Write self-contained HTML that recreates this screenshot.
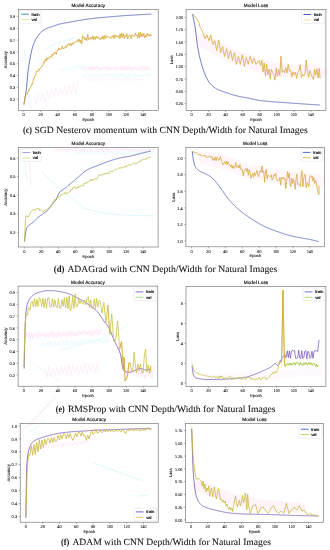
<!DOCTYPE html>
<html><head><meta charset="utf-8"><style>
html,body{margin:0;padding:0;background:#fff;width:330px;height:550px;overflow:hidden;}
svg{display:block;font-family:"Liberation Sans",sans-serif;filter:blur(0.3px);text-rendering:geometricPrecision;}
</style></head><body>
<svg width="330" height="550" viewBox="0 0 330 550"><g opacity="0.55">
<polyline points="81,67.03 82.3,69.33 83.6,66.61 84.9,70.39 86.2,66.67 87.5,70.03 88.8,67.28 90.1,70.03 91.4,65.89 92.7,70.58 94,66.21 95.3,69.46 96.6,65.96 97.9,70.59 99.2,67.05 100.5,70.25 101.8,67.27 103.1,69.48 104.4,66.83 105.7,69.54 107,66.16 108.3,70.53 109.6,66.78 110.9,69.78 112.2,67.13 113.5,69.43 114.8,66.23 116.1,70.2 117.4,67.22 118.7,70.02 120,66.7 121.3,70.57 122.6,66.22 123.9,70.2 125.2,66.47 126.5,70.72 127.8,65.82 129.1,69.81 130.4,66.94 131.7,70.49 133,67.2 134.3,69.85 135.6,67.19 136.9,69.78 138.2,67.19 139.5,69.74 140.8,66.11 142.1,70.66 143.4,66.11 144.7,70.14 146,66.38 147.3,69.84 148.6,67.05 149.9,69.95" fill="none" stroke="#ffc6ee" stroke-width="0.8" stroke-linejoin="round" stroke-linecap="round" opacity="1.0"/>
<polyline points="82,74.27 83.3,77.61 84.6,74.11 85.9,77.3 87.2,74.48 88.5,77.88 89.8,73.15 91.1,76.55 92.4,73.06 93.7,76.71 95,74.07 96.3,77.41 97.6,73.08 98.9,77.78 100.2,74.5 101.5,77.28 102.8,73.67 104.1,77.23 105.4,73.35 106.7,76.74 108,73.35 109.3,76.53 110.6,74.3 111.9,76.67 113.2,74.04 114.5,77.51 115.8,73.79 117.1,77.72 118.4,74.07 119.7,77.6 121,73.45 122.3,76.99 123.6,74 124.9,77.97 126.2,73.56 127.5,77.93 128.8,73.35 130.1,77.74 131.4,73.89 132.7,77.18 134,73.9 135.3,77.99 136.6,74.23 137.9,77.94 139.2,73.87 140.5,77.14 141.8,73.81 143.1,77.06 144.4,73.8 145.7,76.55 147,74.37 148.3,77.6 149.6,73.55 150.9,76.54" fill="none" stroke="#c2f3f8" stroke-width="1.0" stroke-linejoin="round" stroke-linecap="round" opacity="0.5"/>
<polyline points="86,78.2 87.3,80.31 88.6,78.16 89.9,80.97 91.2,78.02 92.5,80.51 93.8,78.35 95.1,80.8 96.4,78.32 97.7,80.75 99,78.87 100.3,80.37 101.6,78.85 102.9,80.87 104.2,78.56 105.5,80.71 106.8,78.67 108.1,80.41 109.4,78.89 110.7,80.42 112,78.05 113.3,80.3 114.6,78.61 115.9,80.93 117.2,78.87 118.5,80.16 119.8,78.33 121.1,80.89 122.4,78.89 123.7,80.77 125,78.17 126.3,80.17 127.6,78.31 128.9,80.56 130.2,78.47 131.5,80.96 132.8,78.9 134.1,80.32 135.4,78.26 136.7,80.39 138,78.65 139.3,80.73 140.6,78.07 141.9,80.32 143.2,78.49 144.5,80.33 145.8,78.56 147.1,80.64 148.4,78.2 149.7,80.16" fill="none" stroke="#ffc6ee" stroke-width="0.6" stroke-linejoin="round" stroke-linecap="round" opacity="0.6"/>
<polyline points="24,48 26,65 28,85 30.2,109" fill="none" stroke="#c2f3f8" stroke-width="0.8" stroke-linejoin="round" stroke-linecap="round" opacity="1.0"/>
<polyline points="45,49 55,44 65,40.5 75,38" fill="none" stroke="#c2f3f8" stroke-width="1.0" stroke-linejoin="round" stroke-linecap="round" opacity="1.0"/>
<polyline points="34,95.75 36.2,104.5 38.4,93.09 40.6,100.37 42.8,93.73 45,102.41 47.2,91.63 49.4,98.73 51.6,90.29 53.8,97.31 56,88.3 58.2,96.72 60.4,88.23 62.6,94.48 64.8,86.72 67,94.19 69.2,84.76 71.4,93.75 73.6,84.38 75.8,94.13 78,82.93" fill="none" stroke="#ffc6ee" stroke-width="0.7" stroke-linejoin="round" stroke-linecap="round" opacity="0.7"/>
<polyline points="60,67.73 61.6,71.04 63.2,68.46 64.8,70.86 66.4,67.67 68,70.65 69.6,67.17 71.2,69.86 72.8,67 74.4,69.32 76,65.34 77.6,68.88 79.2,65.18 80.8,69.33 82.4,64.59 84,67.89 85.6,65.09 87.2,67.18" fill="none" stroke="#c2f3f8" stroke-width="0.7" stroke-linejoin="round" stroke-linecap="round" opacity="0.8"/>
<polyline points="41.3,171.3 50,180 60,189 72,199 85,208.5 100,212.5 120,214.8 155,216" fill="none" stroke="#c2f3f8" stroke-width="1.0" stroke-linejoin="round" stroke-linecap="round" opacity="1.0"/>
<polyline points="24,150 25,165 27,180" fill="none" stroke="#c2f3f8" stroke-width="0.8" stroke-linejoin="round" stroke-linecap="round" opacity="1.0"/>
<polyline points="28,152 30,170 31,185" fill="none" stroke="#ffc6ee" stroke-width="0.7" stroke-linejoin="round" stroke-linecap="round" opacity="1.0"/>
<polyline points="55,148.83 56.3,151.57 57.6,148.39 58.9,150.94 60.2,148.64 61.5,151.17 62.8,148.21 64.1,151.1 65.4,149.03 66.7,152.12 68,148.38 69.3,150.98 70.6,148.17 71.9,151.09 73.2,148.79 74.5,151.27 75.8,148.2 77.1,151.49 78.4,148.84 79.7,151.47 81,148.96 82.3,152.09 83.6,148.37 84.9,151.5 86.2,148.7 87.5,150.94 88.8,148.13 90.1,151.6 91.4,148.11 92.7,151.92 94,149.02 95.3,151.75 96.6,149.05 97.9,151.78 99.2,148.53 100.5,151.5 101.8,148.25 103.1,151.79 104.4,148.77 105.7,150.9 107,148.1 108.3,151.96 109.6,148.94 110.9,151.64 112.2,148.67 113.5,151.19 114.8,148.86 116.1,151.24 117.4,147.83 118.7,151.16 120,148.65 121.3,150.9 122.6,148.31 123.9,151.18 125.2,148.14 126.5,151.65 127.8,148.57 129.1,151.82 130.4,147.84 131.7,151.95 133,148.55 134.3,152.14 135.6,149.06 136.9,151.85 138.2,148.23 139.5,151.58 140.8,148.37 142.1,151.83 143.4,148.22 144.7,151.93 146,148.97 147.3,151.14 148.6,148.17 149.9,151.4 151.2,148.67 152.5,151.08 153.8,148.99" fill="none" stroke="#ffc6ee" stroke-width="0.7" stroke-linejoin="round" stroke-linecap="round" opacity="0.9"/>
<polyline points="75,151.85 76.3,154.44 77.6,151.97 78.9,153.88 80.2,151.26 81.5,154.59 82.8,151.43 84.1,154.49 85.4,152.15 86.7,154.23 88,151.07 89.3,153.87 90.6,151.16 91.9,154.85 93.2,152.14 94.5,154.58 95.8,151.54 97.1,154.52 98.4,151.62 99.7,154.14 101,151.84 102.3,154.47 103.6,151.72 104.9,154.75 106.2,151.7 107.5,153.97 108.8,152.02 110.1,153.87 111.4,151.34 112.7,154.15 114,151.96 115.3,154.8 116.6,151.52 117.9,153.9 119.2,151.55 120.5,153.99 121.8,151.39 123.1,153.94 124.4,151.67 125.7,154.87 127,151.24 128.3,153.88 129.6,151.05 130.9,154.59 132.2,151.34 133.5,154.69 134.8,151.13 136.1,153.96 137.4,151.27 138.7,154.81 140,151.2 141.3,153.83 142.6,151.73 143.9,154.32 145.2,151.58 146.5,154.39 147.8,152.04 149.1,154.98 150.4,152.12 151.7,154.5 153,151.5 154.3,154.95" fill="none" stroke="#c2f3f8" stroke-width="0.8" stroke-linejoin="round" stroke-linecap="round" opacity="0.7"/>
<polyline points="24,333.23 25.3,338.4 26.6,332.62 27.9,337.58 29.2,332.55 30.5,338.65 31.8,332.81 33.1,339.01 34.4,333.53 35.7,336.87 37,332.61 38.3,338.46 39.6,332.26 40.9,336.59 42.2,333.44 43.5,337.04 44.8,332.1 46.1,338.09 47.4,333 48.7,337.53 50,331.81 51.3,336.76 52.6,331.49 53.9,337.6 55.2,332.61 56.5,337.75 57.8,331.89 59.1,337.02 60.4,332.31 61.7,337.19 63,331.95 64.3,335.98 65.6,331.86 66.9,336.97 68.2,331.2 69.5,335.5 70.8,330.73 72.1,336.31 73.4,330.98 74.7,336.04 76,331.94 77.3,336.16 78.6,330.71 79.9,334.74 81.2,331.68 82.5,335.02 83.8,329.48 85.1,334.78 86.4,331.22 87.7,334.21 89,330.59 90.3,335.74 91.6,330.72 92.9,335.87 94.2,328.97 95.5,333.8 96.8,329.27 98.1,335.09 99.4,329.7 100.7,334.08 102,329.25" fill="none" stroke="#ffc6ee" stroke-width="0.8" stroke-linejoin="round" stroke-linecap="round" opacity="0.9"/>
<polyline points="40,343.62 41.3,347.48 42.6,343.17 43.9,346.17 45.2,342.83 46.5,345.89 47.8,342.03 49.1,347 50.4,341.29 51.7,346.51 53,342.48 54.3,346.17 55.6,341.7 56.9,345.41 58.2,342.3 59.5,345.71 60.8,342.04 62.1,345.58 63.4,341.43 64.7,345.67 66,341.27 67.3,345.95 68.6,340.36 69.9,345.16 71.2,340.46 72.5,345.04 73.8,340.9 75.1,345.04 76.4,340.68 77.7,344.78 79,340.9 80.3,344.56 81.6,339.83 82.9,344.13 84.2,340.02 85.5,343.26 86.8,339.48 88.1,342.86 89.4,338.79 90.7,343.86 92,340.01 93.3,342.53 94.6,339.88 95.9,344 97.2,338.64 98.5,342.34 99.8,338.87 101.1,343.39 102.4,338.53 103.7,343.4 105,338.91 106.3,342.75 107.6,337.31 108.9,342.96" fill="none" stroke="#c2f3f8" stroke-width="0.8" stroke-linejoin="round" stroke-linecap="round" opacity="0.6"/>
<polyline points="60,350 80,345 100,339 115,332 128,325" fill="none" stroke="#c2f3f8" stroke-width="0.9" stroke-linejoin="round" stroke-linecap="round" opacity="0.8"/>
<polyline points="28,360 45,372 60,381" fill="none" stroke="#c2f3f8" stroke-width="0.8" stroke-linejoin="round" stroke-linecap="round" opacity="0.8"/>
<polyline points="45,367.48 47,377.49 49,366.1 51,376.9 53,368.89 55,376.16 57,367.36 59,375.25 61,366.07 63,373.79 65,367.17 67,375.39 69,365.04 71,375.57 73,364.77 75,372.35 77,366.85 79,374.63 81,366.12 83,372.55 85,363.6 87,374.76 89,364.38 91,371.7 93,363.34 95,372.54 97,363.55 99,373.49" fill="none" stroke="#ffc6ee" stroke-width="0.7" stroke-linejoin="round" stroke-linecap="round" opacity="0.7"/>
<polyline points="125,369 126.8,376.01 128.6,366.17 130.4,374.89 132.2,368.34 134,375.01 135.8,367.93 137.6,377.59 139.4,367.91 141.2,377.25 143,368.91 144.8,378.44 146.6,368.64 148.4,375.55 150.2,367.12 152,378.43 153.8,366.01" fill="none" stroke="#ffc6ee" stroke-width="0.9" stroke-linejoin="round" stroke-linecap="round" opacity="0.8"/>
<polyline points="94,463.2 110,469 125,474.5 142.2,480.8" fill="none" stroke="#c2f3f8" stroke-width="1.1" stroke-linejoin="round" stroke-linecap="round" opacity="1.0"/>
<polyline points="138,496 146.6,495.5" fill="none" stroke="#c2f3f8" stroke-width="1.0" stroke-linejoin="round" stroke-linecap="round" opacity="1.0"/>
<polyline points="32,446.69 33.3,449.59 34.6,446.1 35.9,449.89 37.2,446.21 38.5,448.84 39.8,445.79 41.1,449.1 42.4,445.59 43.7,449.01 45,445.64 46.3,448.36 47.6,444.17 48.9,448.37 50.2,444.83 51.5,446.99 52.8,443.69 54.1,448.15 55.4,443.53 56.7,446.89 58,443.16 59.3,447.21 60.6,443.46 61.9,446.83 63.2,443.13 64.5,446.51 65.8,442.45 67.1,445.54 68.4,441.85 69.7,446.58 71,441.95 72.3,446.02 73.6,442.65 74.9,444.83 76.2,441.12 77.5,445.41 78.8,441.4 80.1,444.22 81.4,441.16 82.7,444.53 84,441.15 85.3,443.55 86.6,440.7 87.9,443.36 89.2,441.01" fill="none" stroke="#ffc6ee" stroke-width="0.7" stroke-linejoin="round" stroke-linecap="round" opacity="0.6"/>
<polyline points="30,432 38,426 46,421" fill="none" stroke="#c2f3f8" stroke-width="1.0" stroke-linejoin="round" stroke-linecap="round" opacity="0.8"/>
<polyline points="24,428 34,423 45,418" fill="none" stroke="#ffc6ee" stroke-width="0.8" stroke-linejoin="round" stroke-linecap="round" opacity="0.7"/>
<polyline points="30,424 40,414 48,405 55,398" fill="none" stroke="#ffc6ee" stroke-width="1.2" stroke-linejoin="round" stroke-linecap="round" opacity="0.6"/>
<polyline points="26,426 36,416 44,408 50,402" fill="none" stroke="#c2f3f8" stroke-width="1.0" stroke-linejoin="round" stroke-linecap="round" opacity="0.6"/>
<polyline points="203,40 215,47 230,55 250,62 270,69 290,71 320,72" fill="none" stroke="#fde4f2" stroke-width="14" stroke-linejoin="round" stroke-linecap="round" opacity="0.7"/>
<polyline points="205,158 220,161 250,172 280,177 318,181" fill="none" stroke="#fde4f2" stroke-width="14" stroke-linejoin="round" stroke-linecap="round" opacity="0.7"/>
<polyline points="205,378 240,377 270,376 300,372 320,372" fill="none" stroke="#fdeaf5" stroke-width="8" stroke-linejoin="round" stroke-linecap="round" opacity="0.5"/>
<polyline points="198,486 215,492 235,500 260,505 300,508" fill="none" stroke="#fde6f3" stroke-width="11" stroke-linejoin="round" stroke-linecap="round" opacity="0.9"/>
</g>
<rect x="18.4" y="9.3" width="139.8" height="101" fill="none" stroke="#666" stroke-width="0.6"/>
<text x="88.3" y="7" font-family="Liberation Sans" font-size="4.7" text-anchor="middle" font-weight="normal" fill="#111" stroke="#111" stroke-width="0.17" letter-spacing="0.05">Model Accuracy</text>
<line x1="23.6" y1="110.3" x2="23.6" y2="111.9" stroke="#666" stroke-width="0.5"/>
<text x="23.6" y="116" font-family="Liberation Sans" font-size="3.95" text-anchor="middle" font-weight="normal" fill="#111" stroke="#111" stroke-width="0.08">0</text>
<line x1="40.68" y1="110.3" x2="40.68" y2="111.9" stroke="#666" stroke-width="0.5"/>
<text x="40.68" y="116" font-family="Liberation Sans" font-size="3.95" text-anchor="middle" font-weight="normal" fill="#111" stroke="#111" stroke-width="0.08">20</text>
<line x1="57.76" y1="110.3" x2="57.76" y2="111.9" stroke="#666" stroke-width="0.5"/>
<text x="57.76" y="116" font-family="Liberation Sans" font-size="3.95" text-anchor="middle" font-weight="normal" fill="#111" stroke="#111" stroke-width="0.08">40</text>
<line x1="74.84" y1="110.3" x2="74.84" y2="111.9" stroke="#666" stroke-width="0.5"/>
<text x="74.84" y="116" font-family="Liberation Sans" font-size="3.95" text-anchor="middle" font-weight="normal" fill="#111" stroke="#111" stroke-width="0.08">60</text>
<line x1="91.92" y1="110.3" x2="91.92" y2="111.9" stroke="#666" stroke-width="0.5"/>
<text x="91.92" y="116" font-family="Liberation Sans" font-size="3.95" text-anchor="middle" font-weight="normal" fill="#111" stroke="#111" stroke-width="0.08">80</text>
<line x1="109" y1="110.3" x2="109" y2="111.9" stroke="#666" stroke-width="0.5"/>
<text x="109" y="116" font-family="Liberation Sans" font-size="3.95" text-anchor="middle" font-weight="normal" fill="#111" stroke="#111" stroke-width="0.08" textLength="5.9" lengthAdjust="spacingAndGlyphs">100</text>
<line x1="126.08" y1="110.3" x2="126.08" y2="111.9" stroke="#666" stroke-width="0.5"/>
<text x="126.08" y="116" font-family="Liberation Sans" font-size="3.95" text-anchor="middle" font-weight="normal" fill="#111" stroke="#111" stroke-width="0.08" textLength="5.9" lengthAdjust="spacingAndGlyphs">120</text>
<line x1="143.16" y1="110.3" x2="143.16" y2="111.9" stroke="#666" stroke-width="0.5"/>
<text x="143.16" y="116" font-family="Liberation Sans" font-size="3.95" text-anchor="middle" font-weight="normal" fill="#111" stroke="#111" stroke-width="0.08" textLength="5.9" lengthAdjust="spacingAndGlyphs">140</text>
<text x="88.3" y="120.9" font-family="Liberation Sans" font-size="4.1" text-anchor="middle" font-weight="normal" fill="#111" stroke="#111" stroke-width="0.1">Epoch</text>
<line x1="16.8" y1="99.1" x2="18.4" y2="99.1" stroke="#666" stroke-width="0.5"/>
<text x="15.3" y="100.8" font-family="Liberation Sans" font-size="3.95" text-anchor="end" font-weight="normal" fill="#111" stroke="#111" stroke-width="0.08">0.2</text>
<line x1="16.8" y1="87.31" x2="18.4" y2="87.31" stroke="#666" stroke-width="0.5"/>
<text x="15.3" y="89.01" font-family="Liberation Sans" font-size="3.95" text-anchor="end" font-weight="normal" fill="#111" stroke="#111" stroke-width="0.08">0.3</text>
<line x1="16.8" y1="75.53" x2="18.4" y2="75.53" stroke="#666" stroke-width="0.5"/>
<text x="15.3" y="77.23" font-family="Liberation Sans" font-size="3.95" text-anchor="end" font-weight="normal" fill="#111" stroke="#111" stroke-width="0.08">0.4</text>
<line x1="16.8" y1="63.74" x2="18.4" y2="63.74" stroke="#666" stroke-width="0.5"/>
<text x="15.3" y="65.44" font-family="Liberation Sans" font-size="3.95" text-anchor="end" font-weight="normal" fill="#111" stroke="#111" stroke-width="0.08">0.5</text>
<line x1="16.8" y1="51.96" x2="18.4" y2="51.96" stroke="#666" stroke-width="0.5"/>
<text x="15.3" y="53.66" font-family="Liberation Sans" font-size="3.95" text-anchor="end" font-weight="normal" fill="#111" stroke="#111" stroke-width="0.08">0.6</text>
<line x1="16.8" y1="40.17" x2="18.4" y2="40.17" stroke="#666" stroke-width="0.5"/>
<text x="15.3" y="41.87" font-family="Liberation Sans" font-size="3.95" text-anchor="end" font-weight="normal" fill="#111" stroke="#111" stroke-width="0.08">0.7</text>
<line x1="16.8" y1="28.39" x2="18.4" y2="28.39" stroke="#666" stroke-width="0.5"/>
<text x="15.3" y="30.09" font-family="Liberation Sans" font-size="3.95" text-anchor="end" font-weight="normal" fill="#111" stroke="#111" stroke-width="0.08">0.8</text>
<line x1="16.8" y1="16.6" x2="18.4" y2="16.6" stroke="#666" stroke-width="0.5"/>
<text x="15.3" y="18.3" font-family="Liberation Sans" font-size="3.95" text-anchor="end" font-weight="normal" fill="#111" stroke="#111" stroke-width="0.08">0.9</text>
<text x="7.2" y="59.8" font-family="Liberation Sans" font-size="4.2" text-anchor="middle" font-weight="normal" fill="#111" stroke="#111" stroke-width="0.1" transform="rotate(-90 7.2 59.8)">Accuracy</text>
<rect x="19.3" y="10.3" width="21.5" height="12.8" rx="0.8" fill="#fff" fill-opacity="0.8" stroke="#d4d4d4" stroke-width="0.4"/>
<line x1="21.1" y1="14.2" x2="28.8" y2="14.2" stroke="#2a86c0" stroke-width="0.9"/>
<line x1="21.1" y1="19.6" x2="28.8" y2="19.6" stroke="#e6dc98" stroke-width="0.9"/>
<text x="31.5" y="15.75" font-family="Liberation Sans" font-size="4.2" text-anchor="start" font-weight="normal" fill="#000" stroke="#000" stroke-width="0.15">train</text>
<text x="31.5" y="21.15" font-family="Liberation Sans" font-size="4.2" text-anchor="start" font-weight="normal" fill="#000" stroke="#000" stroke-width="0.15">val</text>
<polyline points="24,103.6 24.5,101.18 25,98.27 25.5,94.95 26,91.31 26.5,87.37 27,82.38 27.5,76.79 28,71.67 28.5,67.83 29,64.62 29.5,61.75 30,59 30.5,56.25 31,53.62 31.5,51.24 32,49.24 32.5,47.45 33,45.81 33.5,44.32 34,42.98 34.5,41.8 35,40.74 35.5,39.75 36,38.84 36.5,38 37,37.21 37.5,36.47 38,35.77 38.5,35.1 39,34.46 39.5,33.84 40,33.25 40.5,32.71 41,32.2 41.5,31.75 42,31.34 42.5,30.96 43,30.6 43.5,30.26 44,29.93 44.5,29.63 45,29.34 45.5,29.06 46,28.8 46.5,28.56 47,28.33 47.5,28.12 48,27.92 48.5,27.73 49,27.56 49.5,27.4 50,27.24 50.5,27.09 51,26.94 51.5,26.79 52,26.63 52.5,26.47 53,26.3 53.5,26.12 54,25.93 54.5,25.74 55,25.55 55.5,25.36 56,25.18 56.5,24.99 57,24.81 57.5,24.64 58,24.48 58.5,24.33 59,24.2 59.5,24.08 60,23.95 60.5,23.84 61,23.72 61.5,23.61 62,23.51 62.5,23.4 63,23.3 63.5,23.2 64,23.11 64.5,23.01 65,22.92 65.5,22.83 66,22.74 66.5,22.66 67,22.57 67.5,22.49 68,22.4 68.5,22.32 69,22.24 69.5,22.15 70,22.07 70.5,21.99 71,21.91 71.5,21.83 72,21.74 72.5,21.66 73,21.57 73.5,21.49 74,21.4 74.5,21.31 75,21.22 75.5,21.13 76,21.04 76.5,20.95 77,20.86 77.5,20.77 78,20.68 78.5,20.59 79,20.5 79.5,20.41 80,20.32 80.5,20.23 81,20.14 81.5,20.06 82,19.97 82.5,19.89 83,19.8 83.5,19.72 84,19.64 84.5,19.56 85,19.48 85.5,19.41 86,19.33 86.5,19.26 87,19.19 87.5,19.13 88,19.06 88.5,19 89,18.93 89.5,18.87 90,18.81 90.5,18.75 91,18.69 91.5,18.63 92,18.57 92.5,18.51 93,18.45 93.5,18.4 94,18.34 94.5,18.29 95,18.23 95.5,18.18 96,18.12 96.5,18.07 97,18.02 97.5,17.97 98,17.91 98.5,17.86 99,17.81 99.5,17.76 100,17.71 100.5,17.67 101,17.62 101.5,17.57 102,17.52 102.5,17.47 103,17.43 103.5,17.38 104,17.33 104.5,17.29 105,17.24 105.5,17.2 106,17.15 106.5,17.11 107,17.06 107.5,17.02 108,16.97 108.5,16.93 109,16.89 109.5,16.84 110,16.8 110.5,16.76 111,16.71 111.5,16.67 112,16.63 112.5,16.59 113,16.55 113.5,16.5 114,16.46 114.5,16.42 115,16.38 115.5,16.34 116,16.3 116.5,16.26 117,16.22 117.5,16.18 118,16.15 118.5,16.11 119,16.07 119.5,16.03 120,15.99 120.5,15.96 121,15.92 121.5,15.88 122,15.85 122.5,15.81 123,15.77 123.5,15.74 124,15.7 124.5,15.67 125,15.63 125.5,15.6 126,15.57 126.5,15.53 127,15.5 127.5,15.46 128,15.43 128.5,15.4 129,15.36 129.5,15.33 130,15.3 130.5,15.27 131,15.24 131.5,15.2 132,15.17 132.5,15.14 133,15.11 133.5,15.08 134,15.05 134.5,15.02 135,14.99 135.5,14.96 136,14.93 136.5,14.9 137,14.87 137.5,14.84 138,14.81 138.5,14.78 139,14.75 139.5,14.72 140,14.69 140.5,14.66 141,14.63 141.5,14.61 142,14.58 142.5,14.55 143,14.52 143.5,14.5 144,14.47 144.5,14.44 145,14.42 145.5,14.39 146,14.36 146.5,14.34 147,14.31 147.5,14.29 148,14.26 148.5,14.24 149,14.21 149.5,14.19 150,14.17 150.5,14.14 151,14.12 151.4,14.1" fill="none" stroke="#4a58b4" stroke-width="0.8" stroke-linejoin="round" opacity="1.0"/>
<polyline points="24,105.44 24.85,97.57 25.7,95.55 26.55,93.44 27.4,94.08 28.25,90.53 29.1,90.82 29.95,87.82 30.8,87.25 31.65,84.06 32.5,84.43 33.35,78.57 34.2,78.92 35.05,75.17 35.9,74.76 36.75,71.02 37.6,71.9 38.45,69.26 39.3,70.42 40.15,68.07 41,67.73 41.85,66.01 42.7,66.01 43.55,62.06 44.4,62.89 45.25,58.99 46.1,61.16 46.95,57.58 47.8,59.52 48.65,57.64 49.5,57.93 50.35,56.11 51.2,57.47 52.05,54.19 52.9,55.65 53.75,52.92 54.6,53.65 55.45,52.08 56.3,54.5 57.15,50.3 58,50.55 58.85,47.88 59.7,49.81 60.55,48.86 61.4,49.11 62.25,46.08 63.1,48.91 63.95,47.72 64.8,48.31 65.65,45.78 66.5,47.64 67.35,44.34 68.2,45.26 69.05,43.57 69.9,45.73 70.75,43.23 71.6,45.74 72.45,42.76 73.3,44.42 74.15,42.19 75,42.42 75.85,41.56 76.7,42.49 77.55,39.53 78.4,41.78 79.25,39.13 80.1,42.63 80.95,39.95 81.8,43.83 82.65,35.8 83.5,38.22 84.35,36.93 85.2,40.05 86.05,37.8 86.9,40.78 87.75,34.1 88.6,39.58 89.45,38.12 90.3,39.47 91.15,37.09 92,39.2 92.85,35.92 93.7,39.61 94.55,36.6 95.4,39.44 96.25,36.1 97.1,38.39 97.95,36.72 98.8,38.89 99.65,38.04 100.5,40.08 101.35,36.82 102.2,39 103.05,35.63 103.9,39.59 104.75,35.4 105.6,38.44 106.45,35.7 107.3,37.3 108.15,36.53 109,37.68 109.85,37.4 110.7,38.94 111.55,36.47 112.4,37.57 113.25,35.07 114.1,38.71 114.95,34.8 115.8,37.37 116.65,35.32 117.5,36.75 118.35,35.97 119.2,38.57 120.05,33.62 120.9,38.13 121.75,33.33 122.6,37.33 123.45,33.59 124.3,38.97 125.15,35.32 126,37.04 126.85,33.65 127.7,38.99 128.55,36.68 129.4,34.7 130.25,35.6 131.1,38.75 131.95,34.77 132.8,36.15 133.65,35.97 134.5,36.58 135.35,32.98 136.2,35.98 137.05,34.67 137.9,38.25 138.75,32.63 139.6,37.76 140.45,32.04 141.3,36.96 142.15,33.59 143,36.55 143.85,33.37 144.7,37.79 145.55,35.04 146.4,37.24 147.25,33.24 148.1,35.88 148.95,34.34 149.8,36.46 150.65,34.17 151.4,35.95" fill="none" stroke="#d6a42c" stroke-width="0.75" stroke-linejoin="round" opacity="1.0"/>
<rect x="186.1" y="9.3" width="139.8" height="101.1" fill="none" stroke="#666" stroke-width="0.6"/>
<text x="256" y="7" font-family="Liberation Sans" font-size="4.7" text-anchor="middle" font-weight="normal" fill="#111" stroke="#111" stroke-width="0.17" letter-spacing="0.05">Model Loss</text>
<line x1="191.5" y1="110.4" x2="191.5" y2="112" stroke="#666" stroke-width="0.5"/>
<text x="191.5" y="116.1" font-family="Liberation Sans" font-size="3.95" text-anchor="middle" font-weight="normal" fill="#111" stroke="#111" stroke-width="0.08">0</text>
<line x1="208.56" y1="110.4" x2="208.56" y2="112" stroke="#666" stroke-width="0.5"/>
<text x="208.56" y="116.1" font-family="Liberation Sans" font-size="3.95" text-anchor="middle" font-weight="normal" fill="#111" stroke="#111" stroke-width="0.08">20</text>
<line x1="225.62" y1="110.4" x2="225.62" y2="112" stroke="#666" stroke-width="0.5"/>
<text x="225.62" y="116.1" font-family="Liberation Sans" font-size="3.95" text-anchor="middle" font-weight="normal" fill="#111" stroke="#111" stroke-width="0.08">40</text>
<line x1="242.68" y1="110.4" x2="242.68" y2="112" stroke="#666" stroke-width="0.5"/>
<text x="242.68" y="116.1" font-family="Liberation Sans" font-size="3.95" text-anchor="middle" font-weight="normal" fill="#111" stroke="#111" stroke-width="0.08">60</text>
<line x1="259.74" y1="110.4" x2="259.74" y2="112" stroke="#666" stroke-width="0.5"/>
<text x="259.74" y="116.1" font-family="Liberation Sans" font-size="3.95" text-anchor="middle" font-weight="normal" fill="#111" stroke="#111" stroke-width="0.08">80</text>
<line x1="276.8" y1="110.4" x2="276.8" y2="112" stroke="#666" stroke-width="0.5"/>
<text x="276.8" y="116.1" font-family="Liberation Sans" font-size="3.95" text-anchor="middle" font-weight="normal" fill="#111" stroke="#111" stroke-width="0.08" textLength="5.9" lengthAdjust="spacingAndGlyphs">100</text>
<line x1="293.86" y1="110.4" x2="293.86" y2="112" stroke="#666" stroke-width="0.5"/>
<text x="293.86" y="116.1" font-family="Liberation Sans" font-size="3.95" text-anchor="middle" font-weight="normal" fill="#111" stroke="#111" stroke-width="0.08" textLength="5.9" lengthAdjust="spacingAndGlyphs">120</text>
<line x1="310.92" y1="110.4" x2="310.92" y2="112" stroke="#666" stroke-width="0.5"/>
<text x="310.92" y="116.1" font-family="Liberation Sans" font-size="3.95" text-anchor="middle" font-weight="normal" fill="#111" stroke="#111" stroke-width="0.08" textLength="5.9" lengthAdjust="spacingAndGlyphs">140</text>
<text x="256" y="121" font-family="Liberation Sans" font-size="4.1" text-anchor="middle" font-weight="normal" fill="#111" stroke="#111" stroke-width="0.1">Epoch</text>
<line x1="184.5" y1="103.6" x2="186.1" y2="103.6" stroke="#666" stroke-width="0.5"/>
<text x="183" y="105.3" font-family="Liberation Sans" font-size="3.95" text-anchor="end" font-weight="normal" fill="#111" stroke="#111" stroke-width="0.08" textLength="7.3" lengthAdjust="spacingAndGlyphs">0.25</text>
<line x1="184.5" y1="91.27" x2="186.1" y2="91.27" stroke="#666" stroke-width="0.5"/>
<text x="183" y="92.97" font-family="Liberation Sans" font-size="3.95" text-anchor="end" font-weight="normal" fill="#111" stroke="#111" stroke-width="0.08" textLength="7.3" lengthAdjust="spacingAndGlyphs">0.50</text>
<line x1="184.5" y1="78.94" x2="186.1" y2="78.94" stroke="#666" stroke-width="0.5"/>
<text x="183" y="80.64" font-family="Liberation Sans" font-size="3.95" text-anchor="end" font-weight="normal" fill="#111" stroke="#111" stroke-width="0.08" textLength="7.3" lengthAdjust="spacingAndGlyphs">0.75</text>
<line x1="184.5" y1="66.61" x2="186.1" y2="66.61" stroke="#666" stroke-width="0.5"/>
<text x="183" y="68.31" font-family="Liberation Sans" font-size="3.95" text-anchor="end" font-weight="normal" fill="#111" stroke="#111" stroke-width="0.08" textLength="7.3" lengthAdjust="spacingAndGlyphs">1.00</text>
<line x1="184.5" y1="54.29" x2="186.1" y2="54.29" stroke="#666" stroke-width="0.5"/>
<text x="183" y="55.99" font-family="Liberation Sans" font-size="3.95" text-anchor="end" font-weight="normal" fill="#111" stroke="#111" stroke-width="0.08" textLength="7.3" lengthAdjust="spacingAndGlyphs">1.25</text>
<line x1="184.5" y1="41.96" x2="186.1" y2="41.96" stroke="#666" stroke-width="0.5"/>
<text x="183" y="43.66" font-family="Liberation Sans" font-size="3.95" text-anchor="end" font-weight="normal" fill="#111" stroke="#111" stroke-width="0.08" textLength="7.3" lengthAdjust="spacingAndGlyphs">1.50</text>
<line x1="184.5" y1="29.63" x2="186.1" y2="29.63" stroke="#666" stroke-width="0.5"/>
<text x="183" y="31.33" font-family="Liberation Sans" font-size="3.95" text-anchor="end" font-weight="normal" fill="#111" stroke="#111" stroke-width="0.08" textLength="7.3" lengthAdjust="spacingAndGlyphs">1.75</text>
<line x1="184.5" y1="17.3" x2="186.1" y2="17.3" stroke="#666" stroke-width="0.5"/>
<text x="183" y="19" font-family="Liberation Sans" font-size="3.95" text-anchor="end" font-weight="normal" fill="#111" stroke="#111" stroke-width="0.08" textLength="7.3" lengthAdjust="spacingAndGlyphs">2.00</text>
<text x="172.9" y="59.85" font-family="Liberation Sans" font-size="4.2" text-anchor="middle" font-weight="normal" fill="#111" stroke="#111" stroke-width="0.1" transform="rotate(-90 172.9 59.85)">Loss</text>
<rect x="301.6" y="10.6" width="22.6" height="12.8" rx="0.8" fill="#fff" fill-opacity="0.8" stroke="#d4d4d4" stroke-width="0.4"/>
<line x1="303.4" y1="14.5" x2="311.1" y2="14.5" stroke="#3848a8" stroke-width="0.9"/>
<line x1="303.4" y1="19.9" x2="311.1" y2="19.9" stroke="#e6dc98" stroke-width="0.9"/>
<text x="313.8" y="16.05" font-family="Liberation Sans" font-size="4.2" text-anchor="start" font-weight="normal" fill="#000" stroke="#000" stroke-width="0.15">train</text>
<text x="313.8" y="21.45" font-family="Liberation Sans" font-size="4.2" text-anchor="start" font-weight="normal" fill="#000" stroke="#000" stroke-width="0.15">val</text>
<polyline points="192.3,14.1 192.8,15.73 193.3,17.72 193.8,20.02 194.3,22.58 194.8,25.36 195.3,28.32 195.8,32.05 196.3,36.4 196.8,40.81 197.3,44.71 197.8,47.75 198.3,50.48 198.8,53 199.3,55.33 199.8,57.5 200.3,59.52 200.8,61.43 201.3,63.25 201.8,64.99 202.3,66.67 202.8,68.27 203.3,69.79 203.8,71.23 204.3,72.59 204.8,73.87 205.3,75.05 205.8,76.16 206.3,77.22 206.8,78.24 207.3,79.21 207.8,80.13 208.3,80.99 208.8,81.79 209.3,82.52 209.8,83.16 210.3,83.74 210.8,84.29 211.3,84.81 211.8,85.3 212.3,85.77 212.8,86.22 213.3,86.64 213.8,87.04 214.3,87.42 214.8,87.78 215.3,88.11 215.8,88.43 216.3,88.72 216.8,89 217.3,89.26 217.8,89.51 218.3,89.74 218.8,89.97 219.3,90.18 219.8,90.38 220.3,90.58 220.8,90.77 221.3,90.95 221.8,91.13 222.3,91.3 222.8,91.47 223.3,91.63 223.8,91.8 224.3,91.96 224.8,92.13 225.3,92.3 225.8,92.47 226.3,92.64 226.8,92.81 227.3,92.98 227.8,93.15 228.3,93.32 228.8,93.49 229.3,93.65 229.8,93.82 230.3,93.98 230.8,94.14 231.3,94.3 231.8,94.46 232.3,94.62 232.8,94.77 233.3,94.92 233.8,95.07 234.3,95.21 234.8,95.35 235.3,95.49 235.8,95.62 236.3,95.75 236.8,95.88 237.3,96 237.8,96.12 238.3,96.23 238.8,96.34 239.3,96.45 239.8,96.55 240.3,96.65 240.8,96.75 241.3,96.85 241.8,96.94 242.3,97.04 242.8,97.13 243.3,97.22 243.8,97.31 244.3,97.4 244.8,97.49 245.3,97.58 245.8,97.67 246.3,97.76 246.8,97.86 247.3,97.95 247.8,98.04 248.3,98.14 248.8,98.24 249.3,98.34 249.8,98.45 250.3,98.55 250.8,98.66 251.3,98.78 251.8,98.89 252.3,99 252.8,99.12 253.3,99.23 253.8,99.34 254.3,99.45 254.8,99.56 255.3,99.67 255.8,99.78 256.3,99.88 256.8,99.98 257.3,100.07 257.8,100.16 258.3,100.25 258.8,100.33 259.3,100.41 259.8,100.47 260.3,100.54 260.8,100.6 261.3,100.66 261.8,100.72 262.3,100.78 262.8,100.83 263.3,100.89 263.8,100.94 264.3,101 264.8,101.05 265.3,101.1 265.8,101.15 266.3,101.2 266.8,101.25 267.3,101.3 267.8,101.34 268.3,101.39 268.8,101.44 269.3,101.48 269.8,101.52 270.3,101.57 270.8,101.61 271.3,101.65 271.8,101.69 272.3,101.73 272.8,101.77 273.3,101.81 273.8,101.85 274.3,101.89 274.8,101.93 275.3,101.97 275.8,102 276.3,102.04 276.8,102.08 277.3,102.11 277.8,102.15 278.3,102.18 278.8,102.22 279.3,102.25 279.8,102.29 280.3,102.32 280.8,102.36 281.3,102.39 281.8,102.42 282.3,102.46 282.8,102.49 283.3,102.53 283.8,102.56 284.3,102.6 284.8,102.63 285.3,102.66 285.8,102.7 286.3,102.73 286.8,102.77 287.3,102.8 287.8,102.84 288.3,102.88 288.8,102.91 289.3,102.95 289.8,102.99 290.3,103.02 290.8,103.06 291.3,103.1 291.8,103.13 292.3,103.17 292.8,103.21 293.3,103.24 293.8,103.28 294.3,103.32 294.8,103.35 295.3,103.39 295.8,103.42 296.3,103.46 296.8,103.5 297.3,103.53 297.8,103.57 298.3,103.6 298.8,103.64 299.3,103.67 299.8,103.71 300.3,103.74 300.8,103.78 301.3,103.81 301.8,103.85 302.3,103.88 302.8,103.91 303.3,103.95 303.8,103.98 304.3,104.02 304.8,104.05 305.3,104.08 305.8,104.12 306.3,104.15 306.8,104.18 307.3,104.22 307.8,104.25 308.3,104.28 308.8,104.32 309.3,104.35 309.8,104.38 310.3,104.41 310.8,104.45 311.3,104.48 311.8,104.51 312.3,104.54 312.8,104.57 313.3,104.6 313.8,104.64 314.3,104.67 314.8,104.7 315.3,104.73 315.8,104.76 316.3,104.79 316.8,104.82 317.3,104.85 317.8,104.88 318.3,104.91 318.8,104.94 319.3,104.97 319.8,105" fill="none" stroke="#4a58b4" stroke-width="0.8" stroke-linejoin="round" opacity="1.0"/>
<polyline points="193,14.1 194.7,16.3 196.4,18.6 198.6,22 200,27 201.5,29.5 203,32.9 205,38.8 206.9,34.8 208.9,40.7 210.8,34.8 212.8,44.7 214.8,40.7 216.7,50.6 218.7,39.8 220.7,52.6 222.6,46.7 224.6,56.5 226.6,48.6 228.5,58.5 230.5,50.6 232.5,60.4 234.4,52.6 236.4,64.4 238.4,56.5 240.4,64.4 242.3,54.5 244.3,66.3 246.3,57.5 248.2,64.4 250.2,56.5 252.2,63.4 254.1,58.5 256.1,64.4 259,60.4 260.6,65.3 261.8,60.27 263,71.89 264.2,62.94 265.4,75.89 266.6,64.19 267.8,74.7 269,69.21 270.2,79.15 271.4,69.27 272.6,72.52 273.8,74.25 275,80.16 276.2,68.02 277.4,76.28 278.6,69.39 279.8,75.43 281,56 282.2,72.25 283.4,70.36 284.6,72.75 285.8,67.59 287,73.14 288.2,64.41 289.4,70.97 290.6,70.12 291.8,76.65 293,71.84 294.2,74.8 295.4,72.23 296.6,78.47 297.8,72.12 299,70.84 300.2,64.69 301.4,77.42 302.6,74.5 303.8,76.06 305,74 306.2,60 307.4,71.22 308.6,77.18 309.8,70.61 311,73.86 312.2,77.19 313.4,79.31 314.6,69.39 315.8,75.23 317,68.73 318.2,77.7 319.4,68.5 320,78.01" fill="none" stroke="#d6a42c" stroke-width="0.75" stroke-linejoin="round" opacity="1.0"/>
<rect x="18.6" y="147.3" width="139.5" height="99.7" fill="none" stroke="#666" stroke-width="0.6"/>
<text x="88.35" y="145" font-family="Liberation Sans" font-size="4.7" text-anchor="middle" font-weight="normal" fill="#111" stroke="#111" stroke-width="0.17" letter-spacing="0.05">Model Accuracy</text>
<line x1="24.3" y1="247" x2="24.3" y2="248.6" stroke="#666" stroke-width="0.5"/>
<text x="24.3" y="252.7" font-family="Liberation Sans" font-size="3.95" text-anchor="middle" font-weight="normal" fill="#111" stroke="#111" stroke-width="0.08">0</text>
<line x1="41.28" y1="247" x2="41.28" y2="248.6" stroke="#666" stroke-width="0.5"/>
<text x="41.28" y="252.7" font-family="Liberation Sans" font-size="3.95" text-anchor="middle" font-weight="normal" fill="#111" stroke="#111" stroke-width="0.08">20</text>
<line x1="58.26" y1="247" x2="58.26" y2="248.6" stroke="#666" stroke-width="0.5"/>
<text x="58.26" y="252.7" font-family="Liberation Sans" font-size="3.95" text-anchor="middle" font-weight="normal" fill="#111" stroke="#111" stroke-width="0.08">40</text>
<line x1="75.24" y1="247" x2="75.24" y2="248.6" stroke="#666" stroke-width="0.5"/>
<text x="75.24" y="252.7" font-family="Liberation Sans" font-size="3.95" text-anchor="middle" font-weight="normal" fill="#111" stroke="#111" stroke-width="0.08">60</text>
<line x1="92.22" y1="247" x2="92.22" y2="248.6" stroke="#666" stroke-width="0.5"/>
<text x="92.22" y="252.7" font-family="Liberation Sans" font-size="3.95" text-anchor="middle" font-weight="normal" fill="#111" stroke="#111" stroke-width="0.08">80</text>
<line x1="109.2" y1="247" x2="109.2" y2="248.6" stroke="#666" stroke-width="0.5"/>
<text x="109.2" y="252.7" font-family="Liberation Sans" font-size="3.95" text-anchor="middle" font-weight="normal" fill="#111" stroke="#111" stroke-width="0.08" textLength="5.9" lengthAdjust="spacingAndGlyphs">100</text>
<line x1="126.18" y1="247" x2="126.18" y2="248.6" stroke="#666" stroke-width="0.5"/>
<text x="126.18" y="252.7" font-family="Liberation Sans" font-size="3.95" text-anchor="middle" font-weight="normal" fill="#111" stroke="#111" stroke-width="0.08" textLength="5.9" lengthAdjust="spacingAndGlyphs">120</text>
<line x1="143.16" y1="247" x2="143.16" y2="248.6" stroke="#666" stroke-width="0.5"/>
<text x="143.16" y="252.7" font-family="Liberation Sans" font-size="3.95" text-anchor="middle" font-weight="normal" fill="#111" stroke="#111" stroke-width="0.08" textLength="5.9" lengthAdjust="spacingAndGlyphs">140</text>
<text x="88.35" y="257.6" font-family="Liberation Sans" font-size="4.1" text-anchor="middle" font-weight="normal" fill="#111" stroke="#111" stroke-width="0.1">Epoch</text>
<line x1="17" y1="232.3" x2="18.6" y2="232.3" stroke="#666" stroke-width="0.5"/>
<text x="15.5" y="234" font-family="Liberation Sans" font-size="3.95" text-anchor="end" font-weight="normal" fill="#111" stroke="#111" stroke-width="0.08">0.2</text>
<line x1="17" y1="213.75" x2="18.6" y2="213.75" stroke="#666" stroke-width="0.5"/>
<text x="15.5" y="215.45" font-family="Liberation Sans" font-size="3.95" text-anchor="end" font-weight="normal" fill="#111" stroke="#111" stroke-width="0.08">0.3</text>
<line x1="17" y1="195.2" x2="18.6" y2="195.2" stroke="#666" stroke-width="0.5"/>
<text x="15.5" y="196.9" font-family="Liberation Sans" font-size="3.95" text-anchor="end" font-weight="normal" fill="#111" stroke="#111" stroke-width="0.08">0.4</text>
<line x1="17" y1="176.65" x2="18.6" y2="176.65" stroke="#666" stroke-width="0.5"/>
<text x="15.5" y="178.35" font-family="Liberation Sans" font-size="3.95" text-anchor="end" font-weight="normal" fill="#111" stroke="#111" stroke-width="0.08">0.5</text>
<line x1="17" y1="158.1" x2="18.6" y2="158.1" stroke="#666" stroke-width="0.5"/>
<text x="15.5" y="159.8" font-family="Liberation Sans" font-size="3.95" text-anchor="end" font-weight="normal" fill="#111" stroke="#111" stroke-width="0.08">0.6</text>
<text x="7.4" y="197.15" font-family="Liberation Sans" font-size="4.2" text-anchor="middle" font-weight="normal" fill="#111" stroke="#111" stroke-width="0.1" transform="rotate(-90 7.4 197.15)">Accuracy</text>
<rect x="20.6" y="148.6" width="20.6" height="12.8" rx="0.8" fill="#fff" fill-opacity="0.8" stroke="#d4d4d4" stroke-width="0.4"/>
<line x1="22.4" y1="152.5" x2="30.1" y2="152.5" stroke="#9a98dc" stroke-width="0.9"/>
<line x1="22.4" y1="157.9" x2="30.1" y2="157.9" stroke="#d8e0a0" stroke-width="0.9"/>
<text x="32.8" y="154.05" font-family="Liberation Sans" font-size="4.2" text-anchor="start" font-weight="normal" fill="#000" stroke="#000" stroke-width="0.15">train</text>
<text x="32.8" y="159.45" font-family="Liberation Sans" font-size="4.2" text-anchor="start" font-weight="normal" fill="#000" stroke="#000" stroke-width="0.15">val</text>
<polyline points="24.5,241.6 25,237.24 25.5,233.4 26,230.46 26.5,228.76 27,227.73 27.5,226.95 28,226.33 28.5,225.8 29,225.31 29.5,224.88 30,224.5 30.5,224.16 31,223.84 31.5,223.52 32,223.2 32.5,222.85 33,222.47 33.5,222.03 34,221.55 34.5,221.04 35,220.5 35.5,219.94 36,219.4 36.5,218.86 37,218.35 37.5,217.88 38,217.45 38.5,217.04 39,216.66 39.5,216.29 40,215.93 40.5,215.58 41,215.23 41.5,214.88 42,214.52 42.5,214.15 43,213.8 43.5,213.46 44,213.13 44.5,212.79 45,212.44 45.5,212.08 46,211.69 46.5,211.27 47,210.81 47.5,210.28 48,209.7 48.5,209.08 49,208.42 49.5,207.74 50,207.06 50.5,206.38 51,205.71 51.5,205.08 52,204.47 52.5,203.9 53,203.33 53.5,202.76 54,202.18 54.5,201.58 55,200.94 55.5,200.25 56,199.5 56.5,198.59 57,197.49 57.5,196.3 58,195.12 58.5,194.02 59,193.11 59.5,192.47 60,191.93 60.5,191.46 61,191.03 61.5,190.64 62,190.29 62.5,189.95 63,189.62 63.5,189.29 64,188.95 64.5,188.59 65,188.2 65.5,187.79 66,187.38 66.5,186.97 67,186.55 67.5,186.13 68,185.71 68.5,185.29 69,184.86 69.5,184.44 70,184.02 70.5,183.59 71,183.17 71.5,182.75 72,182.33 72.5,181.91 73,181.49 73.5,181.08 74,180.66 74.5,180.24 75,179.82 75.5,179.4 76,178.98 76.5,178.56 77,178.14 77.5,177.72 78,177.3 78.5,176.88 79,176.46 79.5,176.03 80,175.58 80.5,175.14 81,174.69 81.5,174.24 82,173.79 82.5,173.35 83,172.92 83.5,172.5 84,172.09 84.5,171.71 85,171.34 85.5,171 86,170.68 86.5,170.37 87,170.07 87.5,169.78 88,169.5 88.5,169.24 89,168.98 89.5,168.74 90,168.5 90.5,168.27 91,168.06 91.5,167.85 92,167.65 92.5,167.46 93,167.27 93.5,167.08 94,166.9 94.5,166.71 95,166.53 95.5,166.34 96,166.15 96.5,165.96 97,165.76 97.5,165.57 98,165.37 98.5,165.17 99,164.96 99.5,164.76 100,164.56 100.5,164.36 101,164.15 101.5,163.95 102,163.75 102.5,163.55 103,163.35 103.5,163.15 104,162.96 104.5,162.76 105,162.57 105.5,162.39 106,162.2 106.5,162.02 107,161.84 107.5,161.67 108,161.5 108.5,161.33 109,161.16 109.5,160.99 110,160.83 110.5,160.66 111,160.5 111.5,160.34 112,160.17 112.5,160.02 113,159.86 113.5,159.71 114,159.55 114.5,159.4 115,159.26 115.5,159.11 116,158.97 116.5,158.83 117,158.7 117.5,158.57 118,158.44 118.5,158.32 119,158.2 119.5,158.09 120,157.98 120.5,157.87 121,157.77 121.5,157.67 122,157.57 122.5,157.48 123,157.38 123.5,157.29 124,157.21 124.5,157.12 125,157.03 125.5,156.94 126,156.86 126.5,156.77 127,156.68 127.5,156.59 128,156.5 128.5,156.4 129,156.31 129.5,156.21 130,156.11 130.5,156 131,155.89 131.5,155.78 132,155.66 132.5,155.55 133,155.43 133.5,155.31 134,155.18 134.5,155.06 135,154.93 135.5,154.8 136,154.68 136.5,154.55 137,154.42 137.5,154.29 138,154.16 138.5,154.03 139,153.9 139.5,153.78 140,153.65 140.5,153.52 141,153.4 141.5,153.27 142,153.15 142.5,153.03 143,152.91 143.5,152.79 144,152.67 144.5,152.55 145,152.43 145.5,152.31 146,152.19 146.5,152.07 147,151.95 147.5,151.83 148,151.71 148.5,151.59 149,151.47 149.5,151.35 150,151.24 150.5,151.12 151,151" fill="none" stroke="#4a58b4" stroke-width="0.75" stroke-linejoin="round" opacity="1.0"/>
<polyline points="24.5,241.75 25.35,220.83 26.2,215.77 27.05,215.97 27.9,217.34 28.75,216.05 29.6,214.41 30.45,212.3 31.3,211.69 32.15,210.63 33,209.33 33.85,210.24 34.7,209.74 35.55,209.96 36.4,208.64 37.25,208.4 38.1,208.63 38.95,208.4 39.8,210.71 40.65,209.74 41.5,210.04 42.35,210.86 43.2,211.98 44.05,210.94 44.9,209.81 45.75,209.73 46.6,210.32 47.45,209.31 48.3,208.14 49.15,207.58 50,207.21 50.85,207.02 51.7,203.79 52.55,203.18 53.4,201.97 54.25,199.76 55.1,199.79 55.95,198.83 56.8,199.56 57.65,197.95 58.5,196.23 59.35,197.2 60.2,195.94 61.05,194.46 61.9,194.81 62.75,194.41 63.6,193.83 64.45,194.09 65.3,192.12 66.15,193.11 67,193.57 67.85,192.97 68.7,192.57 69.55,191.96 70.4,191.57 71.25,189.1 72.1,189.87 72.95,187.44 73.8,187.87 74.65,186.6 75.5,188.39 76.35,188.34 77.2,187.04 78.05,188.2 78.9,186.26 79.75,186.58 80.6,186.27 81.45,185.04 82.3,185.58 83.15,186.02 84,183.28 84.85,183.94 85.7,182.53 86.55,183.28 87.4,181.88 88.25,181.64 89.1,181.3 89.95,180.75 90.8,179.36 91.65,181.09 92.5,178.93 93.35,179.83 94.2,179.85 95.05,178.55 95.9,178.92 96.75,179.24 97.6,177.88 98.45,176.64 99.3,174.57 100.15,175.32 101,175.09 101.85,174.75 102.7,174.09 103.55,174.71 104.4,173.75 105.25,173.79 106.1,174.05 106.95,172.68 107.8,172.75 108.65,174.13 109.5,172.89 110.35,171.01 111.2,171.5 112.05,171.59 112.9,171.69 113.75,170.57 114.6,169.73 115.45,169.24 116.3,169.86 117.15,169.29 118,168.39 118.85,168.32 119.7,167.87 120.55,168.4 121.4,167.15 122.25,167.73 123.1,167.75 123.95,167.25 124.8,166.1 125.65,167.39 126.5,165.74 127.35,166.27 128.2,165.2 129.05,164.25 129.9,165.36 130.75,165.12 131.6,164.56 132.45,164.5 133.3,163.54 134.15,163.15 135,163.21 135.85,164.32 136.7,163.21 137.55,161.93 138.4,162.33 139.25,161.24 140.1,160.9 140.95,161.46 141.8,160.13 142.65,158.97 143.5,159.14 144.35,159.47 145.2,159.12 146.05,159.53 146.9,157.78 147.75,158.41 148.6,157.81 149.45,157.01 150.3,157.31 151,156.74" fill="none" stroke="#b8b838" stroke-width="0.7" stroke-linejoin="round" opacity="1.0"/>
<rect x="185.9" y="147.3" width="138.7" height="99.5" fill="none" stroke="#666" stroke-width="0.6"/>
<text x="255.25" y="145" font-family="Liberation Sans" font-size="4.7" text-anchor="middle" font-weight="normal" fill="#111" stroke="#111" stroke-width="0.17" letter-spacing="0.05">Model Loss</text>
<line x1="191.5" y1="246.8" x2="191.5" y2="248.4" stroke="#666" stroke-width="0.5"/>
<text x="191.5" y="252.5" font-family="Liberation Sans" font-size="3.95" text-anchor="middle" font-weight="normal" fill="#111" stroke="#111" stroke-width="0.08">0</text>
<line x1="208.42" y1="246.8" x2="208.42" y2="248.4" stroke="#666" stroke-width="0.5"/>
<text x="208.42" y="252.5" font-family="Liberation Sans" font-size="3.95" text-anchor="middle" font-weight="normal" fill="#111" stroke="#111" stroke-width="0.08">20</text>
<line x1="225.34" y1="246.8" x2="225.34" y2="248.4" stroke="#666" stroke-width="0.5"/>
<text x="225.34" y="252.5" font-family="Liberation Sans" font-size="3.95" text-anchor="middle" font-weight="normal" fill="#111" stroke="#111" stroke-width="0.08">40</text>
<line x1="242.26" y1="246.8" x2="242.26" y2="248.4" stroke="#666" stroke-width="0.5"/>
<text x="242.26" y="252.5" font-family="Liberation Sans" font-size="3.95" text-anchor="middle" font-weight="normal" fill="#111" stroke="#111" stroke-width="0.08">60</text>
<line x1="259.18" y1="246.8" x2="259.18" y2="248.4" stroke="#666" stroke-width="0.5"/>
<text x="259.18" y="252.5" font-family="Liberation Sans" font-size="3.95" text-anchor="middle" font-weight="normal" fill="#111" stroke="#111" stroke-width="0.08">80</text>
<line x1="276.1" y1="246.8" x2="276.1" y2="248.4" stroke="#666" stroke-width="0.5"/>
<text x="276.1" y="252.5" font-family="Liberation Sans" font-size="3.95" text-anchor="middle" font-weight="normal" fill="#111" stroke="#111" stroke-width="0.08" textLength="5.9" lengthAdjust="spacingAndGlyphs">100</text>
<line x1="293.02" y1="246.8" x2="293.02" y2="248.4" stroke="#666" stroke-width="0.5"/>
<text x="293.02" y="252.5" font-family="Liberation Sans" font-size="3.95" text-anchor="middle" font-weight="normal" fill="#111" stroke="#111" stroke-width="0.08" textLength="5.9" lengthAdjust="spacingAndGlyphs">120</text>
<line x1="309.94" y1="246.8" x2="309.94" y2="248.4" stroke="#666" stroke-width="0.5"/>
<text x="309.94" y="252.5" font-family="Liberation Sans" font-size="3.95" text-anchor="middle" font-weight="normal" fill="#111" stroke="#111" stroke-width="0.08" textLength="5.9" lengthAdjust="spacingAndGlyphs">140</text>
<text x="255.25" y="257.4" font-family="Liberation Sans" font-size="4.1" text-anchor="middle" font-weight="normal" fill="#111" stroke="#111" stroke-width="0.1">Epoch</text>
<line x1="184.3" y1="241.1" x2="185.9" y2="241.1" stroke="#666" stroke-width="0.5"/>
<text x="182.8" y="242.8" font-family="Liberation Sans" font-size="3.95" text-anchor="end" font-weight="normal" fill="#111" stroke="#111" stroke-width="0.08">1.0</text>
<line x1="184.3" y1="224.52" x2="185.9" y2="224.52" stroke="#666" stroke-width="0.5"/>
<text x="182.8" y="226.22" font-family="Liberation Sans" font-size="3.95" text-anchor="end" font-weight="normal" fill="#111" stroke="#111" stroke-width="0.08">1.2</text>
<line x1="184.3" y1="207.94" x2="185.9" y2="207.94" stroke="#666" stroke-width="0.5"/>
<text x="182.8" y="209.64" font-family="Liberation Sans" font-size="3.95" text-anchor="end" font-weight="normal" fill="#111" stroke="#111" stroke-width="0.08">1.4</text>
<line x1="184.3" y1="191.36" x2="185.9" y2="191.36" stroke="#666" stroke-width="0.5"/>
<text x="182.8" y="193.06" font-family="Liberation Sans" font-size="3.95" text-anchor="end" font-weight="normal" fill="#111" stroke="#111" stroke-width="0.08">1.6</text>
<line x1="184.3" y1="174.78" x2="185.9" y2="174.78" stroke="#666" stroke-width="0.5"/>
<text x="182.8" y="176.48" font-family="Liberation Sans" font-size="3.95" text-anchor="end" font-weight="normal" fill="#111" stroke="#111" stroke-width="0.08">1.8</text>
<line x1="184.3" y1="158.2" x2="185.9" y2="158.2" stroke="#666" stroke-width="0.5"/>
<text x="182.8" y="159.9" font-family="Liberation Sans" font-size="3.95" text-anchor="end" font-weight="normal" fill="#111" stroke="#111" stroke-width="0.08">2.0</text>
<text x="174.7" y="197.05" font-family="Liberation Sans" font-size="4.2" text-anchor="middle" font-weight="normal" fill="#111" stroke="#111" stroke-width="0.1" transform="rotate(-90 174.7 197.05)">Loss</text>
<rect x="301" y="148.5" width="21.8" height="12.8" rx="0.8" fill="#fff" fill-opacity="0.8" stroke="#d4d4d4" stroke-width="0.4"/>
<line x1="302.8" y1="152.4" x2="310.5" y2="152.4" stroke="#3a5cc0" stroke-width="0.9"/>
<line x1="302.8" y1="157.8" x2="310.5" y2="157.8" stroke="#c8c040" stroke-width="0.9"/>
<text x="313.2" y="153.95" font-family="Liberation Sans" font-size="4.2" text-anchor="start" font-weight="normal" fill="#000" stroke="#000" stroke-width="0.15">train</text>
<text x="313.2" y="159.35" font-family="Liberation Sans" font-size="4.2" text-anchor="start" font-weight="normal" fill="#000" stroke="#000" stroke-width="0.15">val</text>
<polyline points="192.3,151.4 192.8,156.25 193.3,159.99 193.8,162.21 194.3,164.01 194.8,165.46 195.3,166.59 195.8,167.46 196.3,168.17 196.8,168.78 197.3,169.32 197.8,169.78 198.3,170.19 198.8,170.56 199.3,170.9 199.8,171.21 200.3,171.49 200.8,171.75 201.3,171.99 201.8,172.21 202.3,172.43 202.8,172.64 203.3,172.84 203.8,173.04 204.3,173.25 204.8,173.47 205.3,173.7 205.8,173.95 206.3,174.21 206.8,174.46 207.3,174.72 207.8,174.98 208.3,175.25 208.8,175.54 209.3,175.84 209.8,176.16 210.3,176.51 210.8,176.89 211.3,177.29 211.8,177.72 212.3,178.17 212.8,178.65 213.3,179.13 213.8,179.64 214.3,180.16 214.8,180.69 215.3,181.23 215.8,181.8 216.3,182.4 216.8,183.03 217.3,183.68 217.8,184.34 218.3,185.03 218.8,185.72 219.3,186.42 219.8,187.13 220.3,187.83 220.8,188.54 221.3,189.23 221.8,189.92 222.3,190.6 222.8,191.28 223.3,191.96 223.8,192.66 224.3,193.36 224.8,194.07 225.3,194.77 225.8,195.47 226.3,196.17 226.8,196.86 227.3,197.53 227.8,198.2 228.3,198.84 228.8,199.47 229.3,200.07 229.8,200.65 230.3,201.21 230.8,201.77 231.3,202.33 231.8,202.87 232.3,203.41 232.8,203.93 233.3,204.45 233.8,204.96 234.3,205.47 234.8,205.96 235.3,206.45 235.8,206.93 236.3,207.4 236.8,207.87 237.3,208.33 237.8,208.78 238.3,209.22 238.8,209.66 239.3,210.09 239.8,210.51 240.3,210.92 240.8,211.33 241.3,211.73 241.8,212.12 242.3,212.51 242.8,212.89 243.3,213.27 243.8,213.64 244.3,214.01 244.8,214.37 245.3,214.73 245.8,215.09 246.3,215.44 246.8,215.79 247.3,216.14 247.8,216.48 248.3,216.82 248.8,217.16 249.3,217.5 249.8,217.84 250.3,218.18 250.8,218.51 251.3,218.84 251.8,219.16 252.3,219.49 252.8,219.81 253.3,220.13 253.8,220.44 254.3,220.76 254.8,221.07 255.3,221.37 255.8,221.67 256.3,221.97 256.8,222.27 257.3,222.56 257.8,222.85 258.3,223.13 258.8,223.41 259.3,223.69 259.8,223.97 260.3,224.24 260.8,224.51 261.3,224.78 261.8,225.05 262.3,225.31 262.8,225.57 263.3,225.83 263.8,226.09 264.3,226.34 264.8,226.59 265.3,226.83 265.8,227.07 266.3,227.3 266.8,227.54 267.3,227.76 267.8,227.98 268.3,228.2 268.8,228.41 269.3,228.62 269.8,228.82 270.3,229.02 270.8,229.22 271.3,229.41 271.8,229.6 272.3,229.78 272.8,229.97 273.3,230.15 273.8,230.33 274.3,230.51 274.8,230.68 275.3,230.86 275.8,231.03 276.3,231.21 276.8,231.38 277.3,231.56 277.8,231.73 278.3,231.9 278.8,232.08 279.3,232.26 279.8,232.43 280.3,232.61 280.8,232.78 281.3,232.96 281.8,233.13 282.3,233.3 282.8,233.48 283.3,233.64 283.8,233.81 284.3,233.98 284.8,234.14 285.3,234.29 285.8,234.45 286.3,234.6 286.8,234.75 287.3,234.89 287.8,235.03 288.3,235.16 288.8,235.29 289.3,235.43 289.8,235.55 290.3,235.68 290.8,235.8 291.3,235.93 291.8,236.05 292.3,236.16 292.8,236.28 293.3,236.4 293.8,236.51 294.3,236.62 294.8,236.73 295.3,236.84 295.8,236.95 296.3,237.05 296.8,237.16 297.3,237.26 297.8,237.36 298.3,237.46 298.8,237.56 299.3,237.65 299.8,237.75 300.3,237.84 300.8,237.92 301.3,238.01 301.8,238.09 302.3,238.17 302.8,238.25 303.3,238.33 303.8,238.41 304.3,238.49 304.8,238.57 305.3,238.65 305.8,238.73 306.3,238.81 306.8,238.89 307.3,238.98 307.8,239.06 308.3,239.15 308.8,239.24 309.3,239.34 309.8,239.44 310.3,239.54 310.8,239.64 311.3,239.75 311.8,239.86 312.3,239.98 312.8,240.1 313.3,240.22 313.8,240.35 314.3,240.48 314.8,240.61 315.3,240.74 315.8,240.88 316.3,241.02 316.8,241.16 317.3,241.3 317.8,241.45 318.3,241.59 318.8,241.74 319,241.8" fill="none" stroke="#4a58b4" stroke-width="0.75" stroke-linejoin="round" opacity="1.0"/>
<polyline points="192.3,151.44 193.15,152.29 194,151.57 194.85,153.38 195.7,152.93 196.55,152.41 197.4,153.54 198.25,154.89 199.1,154.98 199.95,154.07 200.8,155.71 201.65,155.35 202.5,155.94 203.35,156.03 204.2,154.99 205.05,156.35 205.9,155.7 206.75,157.72 207.6,157.17 208.45,156.71 209.3,155.85 210.15,157.09 211,157.42 211.85,156.1 212.7,160.28 213.55,158.39 214.4,160.27 215.25,156.97 216.1,160.84 216.95,157.07 217.8,158.3 218.65,160.3 219.5,159.89 220.35,156.52 221.2,158.76 222.05,162.26 222.9,164.8 223.75,163.35 224.6,161.8 225.45,164.17 226.3,161.15 227.15,164.63 228,161.56 228.85,164.5 229.7,164.63 230.55,166.82 231.4,164.87 232.25,168.29 233.1,165.59 233.95,168.08 234.8,168.24 235.65,162.54 236.5,167.03 237.35,167.27 238.2,165.57 239.05,168.12 239.9,164.37 240.75,169.67 241.6,169.9 242.45,169.74 243.3,175.85 244.15,170.65 245,170.28 245.85,168.46 246.7,171.67 247.55,168.45 248.4,175.16 249.25,169.89 250.1,172.5 250.95,178.21 251.8,175.98 252.65,173.37 253.5,177.1 254.35,172.79 255.2,175.67 256.05,173.33 256.9,170.45 257.75,175.01 258.6,176.87 259.45,172.71 260.3,170.28 261.15,172.39 262,166.01 262.85,172.4 263.7,170.86 264.55,182.29 265.4,173 266.25,169.5 267.1,178.7 267.95,174.92 268.8,175.95 269.65,176.66 270.5,176.92 271.35,174.78 272.2,180.27 273.05,178.73 273.9,174.75 274.75,176.24 275.6,173.18 276.45,178.47 277.3,180.6 278.15,180.43 279,180.47 279.85,177.42 280.7,185.12 281.55,177.4 282.4,178.64 283.25,177.17 284.1,179.26 284.95,177.96 285.8,188.73 286.65,181.43 287.5,171.61 288.35,177.67 289.2,173.05 290.05,184.29 290.9,186.86 291.75,177.98 292.6,183.37 293.45,179.34 294.3,182.55 295.15,189.41 296,178.83 296.85,174.3 297.7,184.54 298.55,183.59 299.4,184.52 300.25,186.52 301.1,177.43 301.95,170.49 302.8,186.95 303.65,179.06 304.5,174.68 305.35,174.92 306.2,187.9 307.05,182.65 307.9,183.45 308.75,186.72 309.6,178.01 310.45,175.5 311.3,177.23 312.15,175.91 313,180.95 313.85,177.6 314.7,183.48 315.55,180.63 316.4,183.4 317.25,188.25 318.1,193.31 318.95,194.7 319,185.72" fill="none" stroke="#d6a42c" stroke-width="0.75" stroke-linejoin="round" opacity="1.0"/>
<rect x="18.1" y="286.1" width="139.7" height="100.1" fill="none" stroke="#666" stroke-width="0.6"/>
<text x="87.95" y="283.8" font-family="Liberation Sans" font-size="4.7" text-anchor="middle" font-weight="normal" fill="#111" stroke="#111" stroke-width="0.17" letter-spacing="0.05">Model Accuracy</text>
<line x1="23.8" y1="386.2" x2="23.8" y2="387.8" stroke="#666" stroke-width="0.5"/>
<text x="23.8" y="391.9" font-family="Liberation Sans" font-size="3.95" text-anchor="middle" font-weight="normal" fill="#111" stroke="#111" stroke-width="0.08">0</text>
<line x1="40.86" y1="386.2" x2="40.86" y2="387.8" stroke="#666" stroke-width="0.5"/>
<text x="40.86" y="391.9" font-family="Liberation Sans" font-size="3.95" text-anchor="middle" font-weight="normal" fill="#111" stroke="#111" stroke-width="0.08">20</text>
<line x1="57.92" y1="386.2" x2="57.92" y2="387.8" stroke="#666" stroke-width="0.5"/>
<text x="57.92" y="391.9" font-family="Liberation Sans" font-size="3.95" text-anchor="middle" font-weight="normal" fill="#111" stroke="#111" stroke-width="0.08">40</text>
<line x1="74.98" y1="386.2" x2="74.98" y2="387.8" stroke="#666" stroke-width="0.5"/>
<text x="74.98" y="391.9" font-family="Liberation Sans" font-size="3.95" text-anchor="middle" font-weight="normal" fill="#111" stroke="#111" stroke-width="0.08">60</text>
<line x1="92.04" y1="386.2" x2="92.04" y2="387.8" stroke="#666" stroke-width="0.5"/>
<text x="92.04" y="391.9" font-family="Liberation Sans" font-size="3.95" text-anchor="middle" font-weight="normal" fill="#111" stroke="#111" stroke-width="0.08">80</text>
<line x1="109.1" y1="386.2" x2="109.1" y2="387.8" stroke="#666" stroke-width="0.5"/>
<text x="109.1" y="391.9" font-family="Liberation Sans" font-size="3.95" text-anchor="middle" font-weight="normal" fill="#111" stroke="#111" stroke-width="0.08" textLength="5.9" lengthAdjust="spacingAndGlyphs">100</text>
<line x1="126.16" y1="386.2" x2="126.16" y2="387.8" stroke="#666" stroke-width="0.5"/>
<text x="126.16" y="391.9" font-family="Liberation Sans" font-size="3.95" text-anchor="middle" font-weight="normal" fill="#111" stroke="#111" stroke-width="0.08" textLength="5.9" lengthAdjust="spacingAndGlyphs">120</text>
<line x1="143.22" y1="386.2" x2="143.22" y2="387.8" stroke="#666" stroke-width="0.5"/>
<text x="143.22" y="391.9" font-family="Liberation Sans" font-size="3.95" text-anchor="middle" font-weight="normal" fill="#111" stroke="#111" stroke-width="0.08" textLength="5.9" lengthAdjust="spacingAndGlyphs">140</text>
<text x="87.95" y="396.8" font-family="Liberation Sans" font-size="4.1" text-anchor="middle" font-weight="normal" fill="#111" stroke="#111" stroke-width="0.1">Epoch</text>
<line x1="16.5" y1="375" x2="18.1" y2="375" stroke="#666" stroke-width="0.5"/>
<text x="15" y="376.7" font-family="Liberation Sans" font-size="3.95" text-anchor="end" font-weight="normal" fill="#111" stroke="#111" stroke-width="0.08">0.2</text>
<line x1="16.5" y1="363.23" x2="18.1" y2="363.23" stroke="#666" stroke-width="0.5"/>
<text x="15" y="364.93" font-family="Liberation Sans" font-size="3.95" text-anchor="end" font-weight="normal" fill="#111" stroke="#111" stroke-width="0.08">0.3</text>
<line x1="16.5" y1="351.46" x2="18.1" y2="351.46" stroke="#666" stroke-width="0.5"/>
<text x="15" y="353.16" font-family="Liberation Sans" font-size="3.95" text-anchor="end" font-weight="normal" fill="#111" stroke="#111" stroke-width="0.08">0.4</text>
<line x1="16.5" y1="339.69" x2="18.1" y2="339.69" stroke="#666" stroke-width="0.5"/>
<text x="15" y="341.39" font-family="Liberation Sans" font-size="3.95" text-anchor="end" font-weight="normal" fill="#111" stroke="#111" stroke-width="0.08">0.5</text>
<line x1="16.5" y1="327.91" x2="18.1" y2="327.91" stroke="#666" stroke-width="0.5"/>
<text x="15" y="329.61" font-family="Liberation Sans" font-size="3.95" text-anchor="end" font-weight="normal" fill="#111" stroke="#111" stroke-width="0.08">0.6</text>
<line x1="16.5" y1="316.14" x2="18.1" y2="316.14" stroke="#666" stroke-width="0.5"/>
<text x="15" y="317.84" font-family="Liberation Sans" font-size="3.95" text-anchor="end" font-weight="normal" fill="#111" stroke="#111" stroke-width="0.08">0.7</text>
<line x1="16.5" y1="304.37" x2="18.1" y2="304.37" stroke="#666" stroke-width="0.5"/>
<text x="15" y="306.07" font-family="Liberation Sans" font-size="3.95" text-anchor="end" font-weight="normal" fill="#111" stroke="#111" stroke-width="0.08">0.8</text>
<line x1="16.5" y1="292.6" x2="18.1" y2="292.6" stroke="#666" stroke-width="0.5"/>
<text x="15" y="294.3" font-family="Liberation Sans" font-size="3.95" text-anchor="end" font-weight="normal" fill="#111" stroke="#111" stroke-width="0.08">0.9</text>
<text x="6.9" y="336.15" font-family="Liberation Sans" font-size="4.2" text-anchor="middle" font-weight="normal" fill="#111" stroke="#111" stroke-width="0.1" transform="rotate(-90 6.9 336.15)">Accuracy</text>
<rect x="133.8" y="288" width="23.2" height="12.8" rx="0.8" fill="#fff" fill-opacity="0.8" stroke="#d4d4d4" stroke-width="0.4"/>
<line x1="135.6" y1="291.9" x2="143.3" y2="291.9" stroke="#7060c0" stroke-width="0.9"/>
<line x1="135.6" y1="297.3" x2="143.3" y2="297.3" stroke="#a0e080" stroke-width="0.9"/>
<text x="146" y="293.45" font-family="Liberation Sans" font-size="4.2" text-anchor="start" font-weight="normal" fill="#000" stroke="#000" stroke-width="0.15">train</text>
<text x="146" y="298.85" font-family="Liberation Sans" font-size="4.2" text-anchor="start" font-weight="normal" fill="#000" stroke="#000" stroke-width="0.15">val</text>
<polyline points="24.2,368.5 24.7,345 25.2,326 25.7,315.2 26.2,310.09 26.7,306.79 27.2,304.63 27.7,303.01 28.2,301.74 28.7,300.69 29.2,299.77 29.7,298.94 30.2,298.21 30.7,297.57 31.2,297 31.7,296.5 32.2,296.02 32.7,295.57 33.2,295.14 33.7,294.75 34.2,294.38 34.7,294.05 35.2,293.75 35.7,293.48 36.2,293.26 36.7,293.05 37.2,292.86 37.7,292.68 38.2,292.51 38.7,292.36 39.2,292.21 39.7,292.07 40.2,291.94 40.7,291.82 41.2,291.71 41.7,291.6 42.2,291.5 42.7,291.4 43.2,291.3 43.7,291.19 44.2,291.09 44.7,290.99 45.2,290.9 45.7,290.82 46.2,290.75 46.7,290.68 47.2,290.64 47.7,290.61 48.2,290.6 48.7,290.6 49.2,290.61 49.7,290.62 50.2,290.63 50.7,290.64 51.2,290.66 51.7,290.68 52.2,290.7 52.7,290.72 53.2,290.74 53.7,290.77 54.2,290.79 54.7,290.82 55.2,290.86 55.7,290.91 56.2,290.97 56.7,291.04 57.2,291.11 57.7,291.19 58.2,291.27 58.7,291.36 59.2,291.45 59.7,291.55 60.2,291.64 60.7,291.74 61.2,291.84 61.7,291.94 62.2,292.04 62.7,292.14 63.2,292.24 63.7,292.35 64.2,292.46 64.7,292.58 65.2,292.7 65.7,292.82 66.2,292.95 66.7,293.09 67.2,293.23 67.7,293.38 68.2,293.53 68.7,293.7 69.2,293.87 69.7,294.05 70.2,294.26 70.7,294.5 71.2,294.75 71.7,295.01 72.2,295.28 72.7,295.56 73.2,295.83 73.7,296.1 74.2,296.35 74.7,296.59 75.2,296.84 75.7,297.07 76.2,297.31 76.7,297.55 77.2,297.78 77.7,298.02 78.2,298.27 78.7,298.52 79.2,298.77 79.7,299.03 80.2,299.3 80.7,299.58 81.2,299.86 81.7,300.16 82.2,300.46 82.7,300.76 83.2,301.07 83.7,301.39 84.2,301.71 84.7,302.03 85.2,302.35 85.7,302.67 86.2,303 86.7,303.32 87.2,303.65 87.7,303.98 88.2,304.3 88.7,304.64 89.2,304.97 89.7,305.31 90.2,305.66 90.7,306.01 91.2,306.37 91.7,306.74 92.2,307.12 92.7,307.51 93.2,307.9 93.7,308.3 94.2,308.71 94.7,309.13 95.2,309.56 95.7,310.01 96.2,310.48 96.7,310.98 97.2,311.5 97.7,312.06 98.2,312.67 98.7,313.32 99.2,314.01 99.7,314.71 100.2,315.43 100.7,316.16 101.2,316.9 101.7,317.69 102.2,318.5 102.7,319.3 103.2,320.06 103.7,320.75 104.2,321.41 104.7,322.04 105.2,322.67 105.7,323.3 106.2,323.91 106.7,324.48 107.2,325.07 107.7,325.72 108.2,326.46 108.7,327.33 109.2,328.33 109.7,329.4 110.2,330.52 110.7,331.67 111.2,332.92 111.7,334.23 112.2,335.51 112.7,336.71 113.2,337.86 113.7,338.98 114.2,340.08 114.7,341.17 115.2,342.25 115.7,343.34 116.2,344.44 116.7,345.57 117.2,346.68 117.7,347.71 118.2,348.7 118.7,349.72 119.2,350.82 119.7,352.06 120.2,353.48 120.7,355.19 121.2,358.01 121.7,361.67 122.2,365.26 122.7,367.91 123.2,369.11 123.7,370 124.2,370.71 124.7,371.21 125.2,371.5 125.7,371.66 126.2,371.81 126.7,371.93 127.2,372.04 127.7,372.13 128.2,372.21 128.7,372.26 129.2,372.29 129.7,372.3 130.2,372.27 130.7,372.17 131.2,372.03 131.7,371.85 132.2,371.64 132.7,371.42 133.2,371.2 133.7,370.99 134.2,370.8 134.7,370.61 135.2,370.39 135.7,370.15 136.2,369.9 136.7,369.65 137.2,369.4 137.7,369.17 138.2,368.96 138.7,368.78 139.2,368.64 139.7,368.54 140.2,368.5 140.7,368.52 141.2,368.59 141.7,368.7 142.2,368.85 142.7,369.01 143.2,369.19 143.7,369.38 144.2,369.56 144.7,369.72 145.2,369.85 145.7,369.95 146.2,370 146.7,369.99 147.2,369.94 147.7,369.85 148.2,369.72 148.7,369.56 149.2,369.36 149.7,369.14 150.2,368.89 150.7,368.61 150.9,368.5" fill="none" stroke="#7656b8" stroke-width="0.8" stroke-linejoin="round" opacity="1.0"/>
<polyline points="23.8,367 24.99,324.67 26.19,313.91 27.38,315.09 28.58,307.71 29.77,310.04 30.97,302.57 32.16,301.14 33.35,307.08 34.55,298.54 35.74,306.68 36.94,299.35 38.13,306.38 39.32,297.59 40.52,299.51 41.71,306.53 42.91,298.05 44.1,307.45 45.3,298.7 46.49,308.46 47.68,297.99 48.88,297.69 50.07,307.19 51.27,307.01 52.46,298.62 53.66,307.23 54.85,299.76 56.04,306.65 57.24,307.59 58.43,298.57 59.63,308.03 60.82,308.28 62.01,299.74 63.21,306.11 64.4,297.43 65.6,307.9 66.79,297.19 67.99,308.74 69.18,296.07 70.37,310.81 71.57,307.56 72.76,296.38 73.96,308.43 75.15,293.85 76.34,306.84 77.54,306.16 78.73,298.88 79.93,303.76 81.12,300.41 82.32,303.57 83.51,303.93 84.7,299.99 85.9,304.84 87.09,297.95 88.29,296.88 89.48,307.91 90.68,299.83 91.87,308.12 93.06,309 94.26,298.78 95.45,308.55 96.65,298.45 97.84,307.22 98.86,301.1 99.97,300.21 101.93,313.01 103.9,302.5 105.86,322.75 107.82,305.2 109.78,334.15 111.74,313.89 113.71,341.07 115.67,340.5 117.63,320.91 119.59,349.4 121.55,341.65 123.52,370.64 124.03,357.34 125.14,381 126.42,379 127.7,374.81 128.97,362.7 130.25,363.22 131.53,371.64 132.81,371.4 134.09,352 135.37,364.65 136.65,372.73 137.93,363.65 139.21,370.79 140.49,364.03 141.77,372.55 143.05,373.2 144.33,356 145.61,349 146.89,371.84 148.17,364.93 149.45,373.24 150.73,365.87 150.9,372.11" fill="none" stroke="#c8c040" stroke-width="0.8" stroke-linejoin="round" opacity="1.0"/>
<polyline points="119.59,349.4 121.55,341.65 123.52,370.64 124.03,357.34 125.14,381 126.42,379 127.7,374.81 128.97,362.7 130.25,363.22" fill="none" stroke="#e8903a" stroke-width="0.8" stroke-linejoin="round" opacity="0.6"/>
<polyline points="107.82,305.2 109.78,334.15" fill="none" stroke="#e8903a" stroke-width="0.8" stroke-linejoin="round" opacity="0.5"/>
<rect x="186" y="286.3" width="139.9" height="100.1" fill="none" stroke="#666" stroke-width="0.6"/>
<text x="255.95" y="284" font-family="Liberation Sans" font-size="4.7" text-anchor="middle" font-weight="normal" fill="#111" stroke="#111" stroke-width="0.17" letter-spacing="0.05">Model Loss</text>
<line x1="191.5" y1="386.4" x2="191.5" y2="388" stroke="#666" stroke-width="0.5"/>
<text x="191.5" y="392.1" font-family="Liberation Sans" font-size="3.95" text-anchor="middle" font-weight="normal" fill="#111" stroke="#111" stroke-width="0.08">0</text>
<line x1="208.56" y1="386.4" x2="208.56" y2="388" stroke="#666" stroke-width="0.5"/>
<text x="208.56" y="392.1" font-family="Liberation Sans" font-size="3.95" text-anchor="middle" font-weight="normal" fill="#111" stroke="#111" stroke-width="0.08">20</text>
<line x1="225.62" y1="386.4" x2="225.62" y2="388" stroke="#666" stroke-width="0.5"/>
<text x="225.62" y="392.1" font-family="Liberation Sans" font-size="3.95" text-anchor="middle" font-weight="normal" fill="#111" stroke="#111" stroke-width="0.08">40</text>
<line x1="242.68" y1="386.4" x2="242.68" y2="388" stroke="#666" stroke-width="0.5"/>
<text x="242.68" y="392.1" font-family="Liberation Sans" font-size="3.95" text-anchor="middle" font-weight="normal" fill="#111" stroke="#111" stroke-width="0.08">60</text>
<line x1="259.74" y1="386.4" x2="259.74" y2="388" stroke="#666" stroke-width="0.5"/>
<text x="259.74" y="392.1" font-family="Liberation Sans" font-size="3.95" text-anchor="middle" font-weight="normal" fill="#111" stroke="#111" stroke-width="0.08">80</text>
<line x1="276.8" y1="386.4" x2="276.8" y2="388" stroke="#666" stroke-width="0.5"/>
<text x="276.8" y="392.1" font-family="Liberation Sans" font-size="3.95" text-anchor="middle" font-weight="normal" fill="#111" stroke="#111" stroke-width="0.08" textLength="5.9" lengthAdjust="spacingAndGlyphs">100</text>
<line x1="293.86" y1="386.4" x2="293.86" y2="388" stroke="#666" stroke-width="0.5"/>
<text x="293.86" y="392.1" font-family="Liberation Sans" font-size="3.95" text-anchor="middle" font-weight="normal" fill="#111" stroke="#111" stroke-width="0.08" textLength="5.9" lengthAdjust="spacingAndGlyphs">120</text>
<line x1="310.92" y1="386.4" x2="310.92" y2="388" stroke="#666" stroke-width="0.5"/>
<text x="310.92" y="392.1" font-family="Liberation Sans" font-size="3.95" text-anchor="middle" font-weight="normal" fill="#111" stroke="#111" stroke-width="0.08" textLength="5.9" lengthAdjust="spacingAndGlyphs">140</text>
<text x="255.95" y="397" font-family="Liberation Sans" font-size="4.1" text-anchor="middle" font-weight="normal" fill="#111" stroke="#111" stroke-width="0.1">Epoch</text>
<line x1="184.4" y1="383.1" x2="186" y2="383.1" stroke="#666" stroke-width="0.5"/>
<text x="182.9" y="384.8" font-family="Liberation Sans" font-size="3.95" text-anchor="end" font-weight="normal" fill="#111" stroke="#111" stroke-width="0.08">0</text>
<line x1="184.4" y1="363.25" x2="186" y2="363.25" stroke="#666" stroke-width="0.5"/>
<text x="182.9" y="364.95" font-family="Liberation Sans" font-size="3.95" text-anchor="end" font-weight="normal" fill="#111" stroke="#111" stroke-width="0.08">2</text>
<line x1="184.4" y1="343.4" x2="186" y2="343.4" stroke="#666" stroke-width="0.5"/>
<text x="182.9" y="345.1" font-family="Liberation Sans" font-size="3.95" text-anchor="end" font-weight="normal" fill="#111" stroke="#111" stroke-width="0.08">4</text>
<line x1="184.4" y1="323.55" x2="186" y2="323.55" stroke="#666" stroke-width="0.5"/>
<text x="182.9" y="325.25" font-family="Liberation Sans" font-size="3.95" text-anchor="end" font-weight="normal" fill="#111" stroke="#111" stroke-width="0.08">6</text>
<line x1="184.4" y1="303.7" x2="186" y2="303.7" stroke="#666" stroke-width="0.5"/>
<text x="182.9" y="305.4" font-family="Liberation Sans" font-size="3.95" text-anchor="end" font-weight="normal" fill="#111" stroke="#111" stroke-width="0.08">8</text>
<text x="179.2" y="336.35" font-family="Liberation Sans" font-size="4.2" text-anchor="middle" font-weight="normal" fill="#111" stroke="#111" stroke-width="0.1" transform="rotate(-90 179.2 336.35)">Loss</text>
<rect x="303" y="288" width="21.9" height="12.8" rx="0.8" fill="#fff" fill-opacity="0.8" stroke="#d4d4d4" stroke-width="0.4"/>
<line x1="304.8" y1="291.9" x2="312.5" y2="291.9" stroke="#6060c8" stroke-width="0.9"/>
<line x1="304.8" y1="297.3" x2="312.5" y2="297.3" stroke="#b0d060" stroke-width="0.9"/>
<text x="315.2" y="293.45" font-family="Liberation Sans" font-size="4.2" text-anchor="start" font-weight="normal" fill="#000" stroke="#000" stroke-width="0.15">train</text>
<text x="315.2" y="298.85" font-family="Liberation Sans" font-size="4.2" text-anchor="start" font-weight="normal" fill="#000" stroke="#000" stroke-width="0.15">val</text>
<polyline points="192,365.9 192.5,369.8 193,373 193.5,375 194,376.1 194.5,376.94 195,377.51 195.5,377.79 196,377.98 196.5,378.14 197,378.26 197.5,378.36 198,378.45 198.5,378.53 199,378.62 199.5,378.7 200,378.79 200.5,378.88 201,378.96 201.5,379.05 202,379.13 202.5,379.2 203,379.27 203.5,379.33 204,379.38 204.5,379.43 205,379.46 205.5,379.49 206,379.5 206.5,379.5 207,379.5 207.5,379.5 208,379.5 208.5,379.5 209,379.5 209.5,379.5 210,379.5 210.5,379.5 211,379.5 211.5,379.5 212,379.5 212.5,379.5 213,379.5 213.5,379.5 214,379.5 214.5,379.5 215,379.5 215.5,379.5 216,379.5 216.5,379.49 217,379.48 217.5,379.47 218,379.46 218.5,379.45 219,379.43 219.5,379.41 220,379.39 220.5,379.37 221,379.35 221.5,379.33 222,379.31 222.5,379.29 223,379.26 223.5,379.24 224,379.22 224.5,379.2 225,379.17 225.5,379.15 226,379.12 226.5,379.09 227,379.07 227.5,379.04 228,379 228.5,378.97 229,378.94 229.5,378.9 230,378.87 230.5,378.83 231,378.79 231.5,378.76 232,378.72 232.5,378.68 233,378.64 233.5,378.6 234,378.56 234.5,378.52 235,378.48 235.5,378.44 236,378.4 236.5,378.36 237,378.32 237.5,378.27 238,378.23 238.5,378.18 239,378.14 239.5,378.09 240,378.04 240.5,377.99 241,377.93 241.5,377.88 242,377.82 242.5,377.76 243,377.69 243.5,377.62 244,377.55 244.5,377.48 245,377.4 245.5,377.31 246,377.21 246.5,377.1 247,376.98 247.5,376.84 248,376.7 248.5,376.55 249,376.39 249.5,376.22 250,376.05 250.5,375.87 251,375.68 251.5,375.5 252,375.31 252.5,375.12 253,374.93 253.5,374.75 254,374.56 254.5,374.37 255,374.19 255.5,374 256,373.81 256.5,373.62 257,373.42 257.5,373.22 258,373.02 258.5,372.81 259,372.6 259.5,372.39 260,372.18 260.5,371.96 261,371.74 261.5,371.52 262,371.3 262.5,371.07 263,370.84 263.5,370.61 264,370.38 264.5,370.15 265,369.92 265.5,369.7 266,369.47 266.5,369.24 267,369.01 267.5,368.77 268,368.53 268.5,368.29 269,368.04 269.5,367.78 270,367.51 270.5,367.23 271,366.93 271.5,366.63 272,366.28 272.5,365.82 273,365.3 273.5,364.76 274,364.27 274.5,363.88 275,363.64 275.5,363.63 276,363.95 276.5,364.45 277,364.95 277.5,365.27 278,365.22 278.5,364.77 279,364.01 279.5,363.04 280,361.96 280.5,360.87 281,359.87 281.5,359.05 282,358.33 282.5,357.62 283,356.94 283.5,356.27 284,355.62 284.5,355 285,354.4 285.33,357.58 286.35,357 287.38,350.9 288.4,357.75 289.42,350.85 290.45,358.38 291.47,350.93 292.5,350.12 293.52,351.26 294.54,350.45 295.57,358.34 296.59,358.38 297.61,357.99 298.64,350.18 299.66,357.35 300.68,358.89 301.71,350.75 302.73,358.34 303.75,357.62 304.78,351.28 305.8,350.65 306.83,358.88 307.85,351.34 308.87,351.92 309.9,358.45 310.92,357.48 311.94,351.15 312.97,358.37 313.99,351.42 315.01,350.86 316.04,350.15 317.06,351.72 317.74,351.14 319,339.8" fill="none" stroke="#7656b8" stroke-width="0.75" stroke-linejoin="round" opacity="1.0"/>
<polyline points="192,363.79 192.85,366.31 193.7,369.61 194.55,371.71 195.4,372.03 196.25,372.8 197.1,373.2 197.95,372.98 198.8,374.31 199.65,374.47 200.5,374.32 201.35,374.73 202.2,375.2 203.05,375.14 203.9,375.35 204.75,375.11 205.6,375.98 206.45,375.99 207.3,376.19 208.15,375.71 209,376.97 209.85,376.58 210.7,376.52 211.55,377.49 212.4,376.88 213.25,376.49 214.1,376.95 214.95,376.37 215.8,378.18 216.65,376.93 217.5,376.71 218.35,378.4 219.2,376.01 220.05,378.03 220.9,375.74 221.75,377.04 222.6,376.59 223.45,379.01 224.3,379.29 225.15,377.4 226,378.46 226.85,377.54 227.7,378.21 228.55,377.02 229.4,376.16 230.25,376.08 231.1,378.04 231.95,379.72 232.8,377.94 233.65,377.23 234.5,379.45 235.35,378 236.2,377.96 237.05,378.2 237.9,377.97 238.75,377.92 239.6,377.01 240.45,378.85 241.3,378.38 242.15,379.57 243,378.17 243.85,376.78 244.7,378.41 245.55,380.03 246.4,378.15 247.25,377.7 248.1,377.43 248.95,377.55 249.8,378.23 250.65,377.44 251.5,379.85 252.35,378.25 253.2,378.62 254.05,379.87 254.9,380 255.75,378.54 256.6,379.12 257.45,379.56 258.3,378.79 259.15,377.4 260,379.57 260.85,379.7 261.7,379.11 262.55,377.04 263.4,377.94 264.25,377.01 265.1,377.16 265.95,379.39 266.8,379.45 267.65,377.76 268.5,377.25 269.35,377.08 270.2,375.54 271.05,374.89 271.9,373.2 272.75,372.38 273.6,374.23 274.45,371.8 275.3,371.45 276.15,372.84 277,371.57 277.85,369.62 278.7,365.51 279.55,360.63 280.3,362.78 281.6,362 283,290.3 284.4,362 285.2,366.5 287.55,363.32 288.4,365.12 289.25,363.22 290.11,364.93 290.96,363.01 291.81,365.32 292.67,364.79 293.52,362.87 294.37,362.81 295.22,365.21 296.08,362.79 296.93,362.94 297.78,362.72 298.64,363.12 299.49,365.37 300.34,362.67 301.2,363.07 302.05,365.24 302.9,365.13 303.75,362.79 304.61,364.9 305.46,362.74 306.31,362.86 307.17,364.93 308.02,364.47 308.87,362.47 309.73,364.41 310.58,362.9 311.43,363.16 312.28,365.28 313.14,363.33 313.99,363.86 314.84,364.27 315.7,366.2 316.55,364.52 317.4,366.85 317.74,365.02" fill="none" stroke="#c4c244" stroke-width="0.75" stroke-linejoin="round" opacity="1.0"/>
<polyline points="280.3,362.78 281.6,362 283,290.3 284.4,362 285.2,366.5" fill="none" stroke="#d6a830" stroke-width="0.8" stroke-linejoin="round" opacity="1.0"/>
<polyline points="285.2,366.5 287.55,363.32 288.4,365.12 289.25,363.22 290.11,364.93 290.96,363.01 291.81,365.32 292.67,364.79 293.52,362.87 294.37,362.81 295.22,365.21 296.08,362.79 296.93,362.94 297.78,362.72 298.64,363.12 299.49,365.37 300.34,362.67 301.2,363.07 302.05,365.24 302.9,365.13 303.75,362.79 304.61,364.9 305.46,362.74 306.31,362.86 307.17,364.93 308.02,364.47 308.87,362.47 309.73,364.41 310.58,362.9 311.43,363.16 312.28,365.28 313.14,363.33 313.99,363.86 314.84,364.27 315.7,366.2 316.55,364.52 317.4,366.85 317.74,365.02" fill="none" stroke="#a8d058" stroke-width="0.75" stroke-linejoin="round" opacity="1.0"/>
<rect x="20.2" y="423.4" width="138" height="98.8" fill="none" stroke="#666" stroke-width="0.6"/>
<text x="89.2" y="421.1" font-family="Liberation Sans" font-size="4.7" text-anchor="middle" font-weight="normal" fill="#111" stroke="#111" stroke-width="0.17" letter-spacing="0.05">Model Accuracy</text>
<line x1="25.9" y1="522.2" x2="25.9" y2="523.8" stroke="#666" stroke-width="0.5"/>
<text x="25.9" y="527.9" font-family="Liberation Sans" font-size="3.95" text-anchor="middle" font-weight="normal" fill="#111" stroke="#111" stroke-width="0.08">0</text>
<line x1="42.7" y1="522.2" x2="42.7" y2="523.8" stroke="#666" stroke-width="0.5"/>
<text x="42.7" y="527.9" font-family="Liberation Sans" font-size="3.95" text-anchor="middle" font-weight="normal" fill="#111" stroke="#111" stroke-width="0.08">20</text>
<line x1="59.5" y1="522.2" x2="59.5" y2="523.8" stroke="#666" stroke-width="0.5"/>
<text x="59.5" y="527.9" font-family="Liberation Sans" font-size="3.95" text-anchor="middle" font-weight="normal" fill="#111" stroke="#111" stroke-width="0.08">40</text>
<line x1="76.3" y1="522.2" x2="76.3" y2="523.8" stroke="#666" stroke-width="0.5"/>
<text x="76.3" y="527.9" font-family="Liberation Sans" font-size="3.95" text-anchor="middle" font-weight="normal" fill="#111" stroke="#111" stroke-width="0.08">60</text>
<line x1="93.1" y1="522.2" x2="93.1" y2="523.8" stroke="#666" stroke-width="0.5"/>
<text x="93.1" y="527.9" font-family="Liberation Sans" font-size="3.95" text-anchor="middle" font-weight="normal" fill="#111" stroke="#111" stroke-width="0.08">80</text>
<line x1="109.9" y1="522.2" x2="109.9" y2="523.8" stroke="#666" stroke-width="0.5"/>
<text x="109.9" y="527.9" font-family="Liberation Sans" font-size="3.95" text-anchor="middle" font-weight="normal" fill="#111" stroke="#111" stroke-width="0.08" textLength="5.9" lengthAdjust="spacingAndGlyphs">100</text>
<line x1="126.7" y1="522.2" x2="126.7" y2="523.8" stroke="#666" stroke-width="0.5"/>
<text x="126.7" y="527.9" font-family="Liberation Sans" font-size="3.95" text-anchor="middle" font-weight="normal" fill="#111" stroke="#111" stroke-width="0.08" textLength="5.9" lengthAdjust="spacingAndGlyphs">120</text>
<line x1="143.5" y1="522.2" x2="143.5" y2="523.8" stroke="#666" stroke-width="0.5"/>
<text x="143.5" y="527.9" font-family="Liberation Sans" font-size="3.95" text-anchor="middle" font-weight="normal" fill="#111" stroke="#111" stroke-width="0.08" textLength="5.9" lengthAdjust="spacingAndGlyphs">140</text>
<text x="89.2" y="532.8" font-family="Liberation Sans" font-size="4.1" text-anchor="middle" font-weight="normal" fill="#111" stroke="#111" stroke-width="0.1">Epoch</text>
<line x1="18.6" y1="516.3" x2="20.2" y2="516.3" stroke="#666" stroke-width="0.5"/>
<text x="17.1" y="518" font-family="Liberation Sans" font-size="3.95" text-anchor="end" font-weight="normal" fill="#111" stroke="#111" stroke-width="0.08">0.3</text>
<line x1="18.6" y1="503.39" x2="20.2" y2="503.39" stroke="#666" stroke-width="0.5"/>
<text x="17.1" y="505.09" font-family="Liberation Sans" font-size="3.95" text-anchor="end" font-weight="normal" fill="#111" stroke="#111" stroke-width="0.08">0.4</text>
<line x1="18.6" y1="490.47" x2="20.2" y2="490.47" stroke="#666" stroke-width="0.5"/>
<text x="17.1" y="492.17" font-family="Liberation Sans" font-size="3.95" text-anchor="end" font-weight="normal" fill="#111" stroke="#111" stroke-width="0.08">0.5</text>
<line x1="18.6" y1="477.56" x2="20.2" y2="477.56" stroke="#666" stroke-width="0.5"/>
<text x="17.1" y="479.26" font-family="Liberation Sans" font-size="3.95" text-anchor="end" font-weight="normal" fill="#111" stroke="#111" stroke-width="0.08">0.6</text>
<line x1="18.6" y1="464.64" x2="20.2" y2="464.64" stroke="#666" stroke-width="0.5"/>
<text x="17.1" y="466.34" font-family="Liberation Sans" font-size="3.95" text-anchor="end" font-weight="normal" fill="#111" stroke="#111" stroke-width="0.08">0.7</text>
<line x1="18.6" y1="451.73" x2="20.2" y2="451.73" stroke="#666" stroke-width="0.5"/>
<text x="17.1" y="453.43" font-family="Liberation Sans" font-size="3.95" text-anchor="end" font-weight="normal" fill="#111" stroke="#111" stroke-width="0.08">0.8</text>
<line x1="18.6" y1="438.81" x2="20.2" y2="438.81" stroke="#666" stroke-width="0.5"/>
<text x="17.1" y="440.51" font-family="Liberation Sans" font-size="3.95" text-anchor="end" font-weight="normal" fill="#111" stroke="#111" stroke-width="0.08">0.9</text>
<line x1="18.6" y1="425.9" x2="20.2" y2="425.9" stroke="#666" stroke-width="0.5"/>
<text x="17.1" y="427.6" font-family="Liberation Sans" font-size="3.95" text-anchor="end" font-weight="normal" fill="#111" stroke="#111" stroke-width="0.08">1.0</text>
<text x="9.9" y="472.8" font-family="Liberation Sans" font-size="4.2" text-anchor="middle" font-weight="normal" fill="#111" stroke="#111" stroke-width="0.1" transform="rotate(-90 9.9 472.8)">Accuracy</text>
<rect x="134" y="508" width="22.6" height="12.8" rx="0.8" fill="#fff" fill-opacity="0.8" stroke="#d4d4d4" stroke-width="0.4"/>
<line x1="135.8" y1="511.9" x2="143.5" y2="511.9" stroke="#6050c0" stroke-width="0.9"/>
<line x1="135.8" y1="517.3" x2="143.5" y2="517.3" stroke="#d8c858" stroke-width="0.9"/>
<text x="146.2" y="513.45" font-family="Liberation Sans" font-size="4.2" text-anchor="start" font-weight="normal" fill="#000" stroke="#000" stroke-width="0.15">train</text>
<text x="146.2" y="518.85" font-family="Liberation Sans" font-size="4.2" text-anchor="start" font-weight="normal" fill="#000" stroke="#000" stroke-width="0.15">val</text>
<polyline points="25.9,518 26.4,475.58 26.9,463.56 27.4,458.1 27.9,454.71 28.4,452.05 28.9,449.86 29.4,448.08 29.9,446.67 30.4,445.56 30.9,444.58 31.4,443.73 31.9,443 32.4,442.38 32.9,441.87 33.4,441.46 33.9,441.09 34.4,440.76 34.9,440.44 35.4,440.16 35.9,439.89 36.4,439.65 36.9,439.42 37.4,439.2 37.9,439 38.4,438.8 38.9,438.61 39.4,438.43 39.9,438.24 40.4,438.05 40.9,437.87 41.4,437.7 41.9,437.53 42.4,437.36 42.9,437.21 43.4,437.05 43.9,436.9 44.4,436.76 44.9,436.62 45.4,436.48 45.9,436.34 46.4,436.21 46.9,436.07 47.4,435.94 47.9,435.81 48.4,435.68 48.9,435.55 49.4,435.42 49.9,435.29 50.4,435.16 50.9,435.03 51.4,434.9 51.9,434.78 52.4,434.65 52.9,434.53 53.4,434.41 53.9,434.29 54.4,434.17 54.9,434.06 55.4,433.94 55.9,433.84 56.4,433.73 56.9,433.64 57.4,433.54 57.9,433.45 58.4,433.37 58.9,433.28 59.4,433.21 59.9,433.13 60.4,433.05 60.9,432.98 61.4,432.91 61.9,432.84 62.4,432.77 62.9,432.71 63.4,432.65 63.9,432.58 64.4,432.52 64.9,432.47 65.4,432.41 65.9,432.35 66.4,432.3 66.9,432.24 67.4,432.19 67.9,432.14 68.4,432.09 68.9,432.04 69.4,431.99 69.9,431.94 70.4,431.89 70.9,431.84 71.4,431.8 71.9,431.75 72.4,431.71 72.9,431.67 73.4,431.62 73.9,431.58 74.4,431.55 74.9,431.51 75.4,431.47 75.9,431.43 76.4,431.4 76.9,431.37 77.4,431.34 77.9,431.31 78.4,431.28 78.9,431.25 79.4,431.22 79.9,431.2 80.4,431.17 80.9,431.15 81.4,431.12 81.9,431.1 82.4,431.07 82.9,431.05 83.4,431.02 83.9,431 84.4,430.97 84.9,430.94 85.4,430.91 85.9,430.87 86.4,430.84 86.9,430.8 87.4,430.76 87.9,430.72 88.4,430.67 88.9,430.63 89.4,430.58 89.9,430.54 90.4,430.5 90.9,430.45 91.4,430.41 91.9,430.37 92.4,430.33 92.9,430.29 93.4,430.26 93.9,430.23 94.4,430.2 94.9,430.18 95.4,430.16 95.9,430.14 96.4,430.12 96.9,430.1 97.4,430.08 97.9,430.06 98.4,430.04 98.9,430.03 99.4,430.01 99.9,429.99 100.4,429.98 100.9,429.96 101.4,429.95 101.9,429.93 102.4,429.92 102.9,429.9 103.4,429.89 103.9,429.88 104.4,429.86 104.9,429.85 105.4,429.84 105.9,429.82 106.4,429.81 106.9,429.79 107.4,429.78 107.9,429.77 108.4,429.75 108.9,429.74 109.4,429.72 109.9,429.7 110.4,429.69 110.9,429.67 111.4,429.65 111.9,429.64 112.4,429.62 112.9,429.6 113.4,429.58 113.9,429.57 114.4,429.55 114.9,429.53 115.4,429.51 115.9,429.5 116.4,429.48 116.9,429.46 117.4,429.44 117.9,429.43 118.4,429.41 118.9,429.39 119.4,429.37 119.9,429.36 120.4,429.34 120.9,429.32 121.4,429.3 121.9,429.29 122.4,429.27 122.9,429.25 123.4,429.24 123.9,429.22 124.4,429.2 124.9,429.19 125.4,429.17 125.9,429.15 126.4,429.14 126.9,429.12 127.4,429.11 127.9,429.09 128.4,429.07 128.9,429.06 129.4,429.04 129.9,429.02 130.4,429.01 130.9,428.99 131.4,428.98 131.9,428.96 132.4,428.94 132.9,428.93 133.4,428.91 133.9,428.9 134.4,428.88 134.9,428.87 135.4,428.85 135.9,428.83 136.4,428.82 136.9,428.8 137.4,428.79 137.9,428.77 138.4,428.76 138.9,428.74 139.4,428.73 139.9,428.71 140.4,428.7 140.9,428.68 141.4,428.67 141.9,428.65 142.4,428.64 142.9,428.62 143.4,428.61 143.9,428.59 144.4,428.58 144.9,428.56 145.4,428.55 145.9,428.53 146.4,428.52 146.9,428.5 147.4,428.49 147.9,428.47 148.4,428.46 148.9,428.44 149.4,428.43 149.9,428.41 150.4,428.4" fill="none" stroke="#7656b8" stroke-width="0.8" stroke-linejoin="round" opacity="1.0"/>
<polyline points="25.9,517 27.24,468.4 28.59,454.18 29.93,455.37 31.28,446.04 32.62,455.22 33.96,444.61 35.31,454.32 36.65,442.59 38,451.65 39.34,439.74 40.68,449.05 42.03,440.05 43.37,447.34 44.72,439.01 46.06,444.7 47.4,438.72 48.75,439.01 50.09,443.25 51.44,437.6 52.78,442.65 54.12,437.47 55.47,441.81 56.81,440.94 58.16,435.29 59.5,439.89 60.84,434.91 62.19,438.62 63.53,433.49 64.88,434.14 66.22,438.86 67.56,433.71 68.91,437.66 70.25,433.46 71.6,437.92 72.94,440.4 74.28,437.07 75.63,432.91 76.97,436.68 78.32,432.34 79.66,432.72 81,436.03 82.35,431.85 83.69,435.67 85.04,435.68 86.38,440.4 87.72,435.19 89.07,439 90.41,434.51 91.76,429.89 93.1,434.38 94.44,433.24 95.79,429.33 97.13,433.12 98.48,432.86 99.82,430.16 101.16,431.98 102.51,432.47 103.85,429.94 105.2,432.02 106.54,429.84 107.88,431.71 109.23,429.75 110.57,431.64 111.92,429.4 113.26,431.71 114.6,431.69 115.95,429.65 117.29,431.4 118.64,429.36 119.98,431.37 121.32,431.66 122.67,429.06 124.01,431.26 125.36,433.6 126.7,431.17 128.04,429.15 129.39,431.08 130.73,428.75 132.08,428.96 133.42,430.96 134.76,428.95 136.11,430.68 137.45,428.68 138.8,430.64 140.14,430.94 141.48,428.59 142.83,430.7 144.17,428.65 145.52,430.74 146.86,428.15 148.2,427.94 149.55,430.06 150.89,428.33 151.06,430.29" fill="none" stroke="#c8b030" stroke-width="0.75" stroke-linejoin="round" opacity="1.0"/>
<rect x="185.5" y="423.4" width="138.1" height="98.9" fill="none" stroke="#666" stroke-width="0.6"/>
<text x="254.55" y="421.1" font-family="Liberation Sans" font-size="4.7" text-anchor="middle" font-weight="normal" fill="#111" stroke="#111" stroke-width="0.17" letter-spacing="0.05">Model Loss</text>
<line x1="191" y1="522.3" x2="191" y2="523.9" stroke="#666" stroke-width="0.5"/>
<text x="191" y="528" font-family="Liberation Sans" font-size="3.95" text-anchor="middle" font-weight="normal" fill="#111" stroke="#111" stroke-width="0.08">0</text>
<line x1="207.8" y1="522.3" x2="207.8" y2="523.9" stroke="#666" stroke-width="0.5"/>
<text x="207.8" y="528" font-family="Liberation Sans" font-size="3.95" text-anchor="middle" font-weight="normal" fill="#111" stroke="#111" stroke-width="0.08">20</text>
<line x1="224.6" y1="522.3" x2="224.6" y2="523.9" stroke="#666" stroke-width="0.5"/>
<text x="224.6" y="528" font-family="Liberation Sans" font-size="3.95" text-anchor="middle" font-weight="normal" fill="#111" stroke="#111" stroke-width="0.08">40</text>
<line x1="241.4" y1="522.3" x2="241.4" y2="523.9" stroke="#666" stroke-width="0.5"/>
<text x="241.4" y="528" font-family="Liberation Sans" font-size="3.95" text-anchor="middle" font-weight="normal" fill="#111" stroke="#111" stroke-width="0.08">60</text>
<line x1="258.2" y1="522.3" x2="258.2" y2="523.9" stroke="#666" stroke-width="0.5"/>
<text x="258.2" y="528" font-family="Liberation Sans" font-size="3.95" text-anchor="middle" font-weight="normal" fill="#111" stroke="#111" stroke-width="0.08">80</text>
<line x1="275" y1="522.3" x2="275" y2="523.9" stroke="#666" stroke-width="0.5"/>
<text x="275" y="528" font-family="Liberation Sans" font-size="3.95" text-anchor="middle" font-weight="normal" fill="#111" stroke="#111" stroke-width="0.08" textLength="5.9" lengthAdjust="spacingAndGlyphs">100</text>
<line x1="291.8" y1="522.3" x2="291.8" y2="523.9" stroke="#666" stroke-width="0.5"/>
<text x="291.8" y="528" font-family="Liberation Sans" font-size="3.95" text-anchor="middle" font-weight="normal" fill="#111" stroke="#111" stroke-width="0.08" textLength="5.9" lengthAdjust="spacingAndGlyphs">120</text>
<line x1="308.6" y1="522.3" x2="308.6" y2="523.9" stroke="#666" stroke-width="0.5"/>
<text x="308.6" y="528" font-family="Liberation Sans" font-size="3.95" text-anchor="middle" font-weight="normal" fill="#111" stroke="#111" stroke-width="0.08" textLength="5.9" lengthAdjust="spacingAndGlyphs">140</text>
<text x="254.55" y="532.9" font-family="Liberation Sans" font-size="4.1" text-anchor="middle" font-weight="normal" fill="#111" stroke="#111" stroke-width="0.1">Epoch</text>
<line x1="183.9" y1="519.9" x2="185.5" y2="519.9" stroke="#666" stroke-width="0.5"/>
<text x="182.4" y="521.6" font-family="Liberation Sans" font-size="3.95" text-anchor="end" font-weight="normal" fill="#111" stroke="#111" stroke-width="0.08" textLength="7.3" lengthAdjust="spacingAndGlyphs">0.00</text>
<line x1="183.9" y1="507.13" x2="185.5" y2="507.13" stroke="#666" stroke-width="0.5"/>
<text x="182.4" y="508.83" font-family="Liberation Sans" font-size="3.95" text-anchor="end" font-weight="normal" fill="#111" stroke="#111" stroke-width="0.08" textLength="7.3" lengthAdjust="spacingAndGlyphs">0.25</text>
<line x1="183.9" y1="494.36" x2="185.5" y2="494.36" stroke="#666" stroke-width="0.5"/>
<text x="182.4" y="496.06" font-family="Liberation Sans" font-size="3.95" text-anchor="end" font-weight="normal" fill="#111" stroke="#111" stroke-width="0.08" textLength="7.3" lengthAdjust="spacingAndGlyphs">0.50</text>
<line x1="183.9" y1="481.59" x2="185.5" y2="481.59" stroke="#666" stroke-width="0.5"/>
<text x="182.4" y="483.29" font-family="Liberation Sans" font-size="3.95" text-anchor="end" font-weight="normal" fill="#111" stroke="#111" stroke-width="0.08" textLength="7.3" lengthAdjust="spacingAndGlyphs">0.75</text>
<line x1="183.9" y1="468.81" x2="185.5" y2="468.81" stroke="#666" stroke-width="0.5"/>
<text x="182.4" y="470.51" font-family="Liberation Sans" font-size="3.95" text-anchor="end" font-weight="normal" fill="#111" stroke="#111" stroke-width="0.08" textLength="7.3" lengthAdjust="spacingAndGlyphs">1.00</text>
<line x1="183.9" y1="456.04" x2="185.5" y2="456.04" stroke="#666" stroke-width="0.5"/>
<text x="182.4" y="457.74" font-family="Liberation Sans" font-size="3.95" text-anchor="end" font-weight="normal" fill="#111" stroke="#111" stroke-width="0.08" textLength="7.3" lengthAdjust="spacingAndGlyphs">1.25</text>
<line x1="183.9" y1="443.27" x2="185.5" y2="443.27" stroke="#666" stroke-width="0.5"/>
<text x="182.4" y="444.97" font-family="Liberation Sans" font-size="3.95" text-anchor="end" font-weight="normal" fill="#111" stroke="#111" stroke-width="0.08" textLength="7.3" lengthAdjust="spacingAndGlyphs">1.50</text>
<line x1="183.9" y1="430.5" x2="185.5" y2="430.5" stroke="#666" stroke-width="0.5"/>
<text x="182.4" y="432.2" font-family="Liberation Sans" font-size="3.95" text-anchor="end" font-weight="normal" fill="#111" stroke="#111" stroke-width="0.08" textLength="7.3" lengthAdjust="spacingAndGlyphs">1.75</text>
<text x="172.3" y="472.85" font-family="Liberation Sans" font-size="4.2" text-anchor="middle" font-weight="normal" fill="#111" stroke="#111" stroke-width="0.1" transform="rotate(-90 172.3 472.85)">Loss</text>
<rect x="299" y="425.3" width="22.9" height="12.8" rx="0.8" fill="#fff" fill-opacity="0.8" stroke="#d4d4d4" stroke-width="0.4"/>
<line x1="300.8" y1="429.2" x2="308.5" y2="429.2" stroke="#3a5cc0" stroke-width="0.9"/>
<line x1="300.8" y1="434.6" x2="308.5" y2="434.6" stroke="#c8c040" stroke-width="0.9"/>
<text x="311.2" y="430.75" font-family="Liberation Sans" font-size="4.2" text-anchor="start" font-weight="normal" fill="#000" stroke="#000" stroke-width="0.15">train</text>
<text x="311.2" y="436.15" font-family="Liberation Sans" font-size="4.2" text-anchor="start" font-weight="normal" fill="#000" stroke="#000" stroke-width="0.15">val</text>
<polyline points="191.7,428.6 192.2,445.53 192.7,460.63 193.2,471.07 193.7,477.84 194.2,483 194.7,487.32 195.2,490.85 195.7,493.44 196.2,495.54 196.7,497.29 197.2,498.71 197.7,499.87 198.2,500.9 198.7,501.81 199.2,502.61 199.7,503.3 200.2,503.89 200.7,504.4 201.2,504.86 201.7,505.29 202.2,505.67 202.7,506.01 203.2,506.33 203.7,506.6 204.2,506.85 204.7,507.07 205.2,507.27 205.7,507.46 206.2,507.64 206.7,507.8 207.2,507.96 207.7,508.11 208.2,508.25 208.7,508.39 209.2,508.53 209.7,508.67 210.2,508.81 210.7,508.95 211.2,509.09 211.7,509.22 212.2,509.35 212.7,509.48 213.2,509.61 213.7,509.73 214.2,509.85 214.7,509.97 215.2,510.09 215.7,510.21 216.2,510.32 216.7,510.44 217.2,510.55 217.7,510.67 218.2,510.78 218.7,510.9 219.2,511.01 219.7,511.13 220.2,511.25 220.7,511.36 221.2,511.47 221.7,511.58 222.2,511.69 222.7,511.8 223.2,511.91 223.7,512.01 224.2,512.11 224.7,512.21 225.2,512.3 225.7,512.39 226.2,512.47 226.7,512.55 227.2,512.63 227.7,512.7 228.2,512.78 228.7,512.85 229.2,512.92 229.7,512.98 230.2,513.05 230.7,513.11 231.2,513.17 231.7,513.23 232.2,513.28 232.7,513.33 233.2,513.38 233.7,513.43 234.2,513.47 234.7,513.51 235.2,513.54 235.7,513.58 236.2,513.61 236.7,513.64 237.2,513.67 237.7,513.7 238.2,513.73 238.7,513.76 239.2,513.79 239.7,513.81 240.2,513.84 240.7,513.86 241.2,513.88 241.7,513.91 242.2,513.93 242.7,513.95 243.2,513.96 243.7,513.98 244.2,514 244.7,514.02 245.2,514.03 245.7,514.05 246.2,514.06 246.7,514.08 247.2,514.09 247.7,514.11 248.2,514.12 248.7,514.13 249.2,514.15 249.7,514.16 250.2,514.17 250.7,514.18 251.2,514.19 251.7,514.2 252.2,514.22 252.7,514.23 253.2,514.24 253.7,514.25 254.2,514.26 254.7,514.27 255.2,514.28 255.7,514.29 256.2,514.3 256.7,514.31 257.2,514.31 257.7,514.32 258.2,514.33 258.7,514.34 259.2,514.35 259.7,514.36 260.2,514.37 260.7,514.38 261.2,514.39 261.7,514.4 262.2,514.41 262.7,514.42 263.2,514.43 263.7,514.44 264.2,514.45 264.7,514.46 265.2,514.47 265.7,514.48 266.2,514.49 266.7,514.5 267.2,514.51 267.7,514.52 268.2,514.53 268.7,514.55 269.2,514.56 269.7,514.57 270.2,514.58 270.7,514.6 271.2,514.61 271.7,514.63 272.2,514.64 272.7,514.66 273.2,514.67 273.7,514.69 274.2,514.7 274.7,514.72 275.2,514.74 275.7,514.75 276.2,514.77 276.7,514.79 277.2,514.81 277.7,514.82 278.2,514.84 278.7,514.86 279.2,514.88 279.7,514.9 280.2,514.92 280.7,514.94 281.2,514.96 281.7,514.97 282.2,514.99 282.7,515.01 283.2,515.03 283.7,515.05 284.2,515.07 284.7,515.09 285.2,515.11 285.7,515.13 286.2,515.15 286.7,515.17 287.2,515.19 287.7,515.21 288.2,515.22 288.7,515.24 289.2,515.26 289.7,515.28 290.2,515.3 290.7,515.32 291.2,515.33 291.7,515.35 292.2,515.37 292.7,515.38 293.2,515.4 293.7,515.42 294.2,515.43 294.7,515.45 295.2,515.46 295.7,515.48 296.2,515.49 296.7,515.51 297.2,515.52 297.7,515.53 298.2,515.55 298.7,515.56 299.2,515.57 299.7,515.59 300.2,515.6 300.7,515.61 301.2,515.62 301.7,515.64 302.2,515.65 302.7,515.66 303.2,515.68 303.7,515.69 304.2,515.7 304.7,515.71 305.2,515.72 305.7,515.74 306.2,515.75 306.7,515.76 307.2,515.77 307.7,515.78 308.2,515.79 308.7,515.81 309.2,515.82 309.7,515.83 310.2,515.84 310.7,515.85 311.2,515.86 311.7,515.87 312.2,515.88 312.7,515.89 313.2,515.9 313.7,515.91 314.2,515.92 314.7,515.93 315.2,515.94 315.7,515.95 316.2,515.96 316.7,515.97 317.2,515.98 317.7,515.99 318.2,515.99 318.5,516" fill="none" stroke="#7656b8" stroke-width="0.8" stroke-linejoin="round" opacity="1.0"/>
<polyline points="191.7,427.6 192.4,441 193,455 194,465 195,473 196,477.5 197,479.5 198.2,478 199.3,479.2 201.2,481 202.2,486 203.1,481 204,488.7 205,484 206,492 207,488 207.9,490.6 208.8,486 209.8,496.3 210.8,490 211.7,488 212.6,497 213.5,492 214.5,487 215.5,496 216.5,499 217.5,492 218.5,488.7 219.5,494 220.5,500 221.5,499 222.4,502 223.2,500.2 224.2,503 225.2,501 226,506 227,504 228,508 229,509.7 230,507 231,510 232,508 232.7,511.6 233.6,505 234.6,500 235.6,496.3 236.5,503 237.5,507 238.4,502 239.4,500.2 240.3,506 241.2,503.2 242.6,495.5 243.5,503 244.5,500 245.2,492.9 246,498 246.8,510 247.7,494.2 248.6,506 250.3,513.5 252.9,505.8 255.5,504.5 258,513.5 260.6,508.3 263.2,507 265.8,511 268.3,513.5 270.9,508.3 273.5,505.8 276.1,511 278.7,513.5 281.2,511 283.8,513.5 286.4,503.2 289,513.5 291.5,510 294.1,507 296.7,510 299.3,505.8 301.9,511 304.4,510 307,514.8 309.6,513.5 312.2,514.8 314.8,515.2 317.3,516 318.5,515.5" fill="none" stroke="#c8b434" stroke-width="0.75" stroke-linejoin="round" opacity="1.0"/>
<text x="23" y="132.9" font-family="Liberation Serif" font-size="9.4" font-weight="bold" fill="#111" textLength="9.1" lengthAdjust="spacingAndGlyphs">(c)</text>
<text x="34.5" y="132.9" font-family="Liberation Serif" font-size="9.4" fill="#111" stroke="#111" stroke-width="0.07" textLength="273.2" lengthAdjust="spacingAndGlyphs">SGD Nesterov momentum with CNN Depth/Width for Natural Images</text>
<text x="53.8" y="272.2" font-family="Liberation Serif" font-size="9.4" font-weight="bold" fill="#111" textLength="10.6" lengthAdjust="spacingAndGlyphs">(d)</text>
<text x="67.4" y="272.2" font-family="Liberation Serif" font-size="9.4" fill="#111" stroke="#111" stroke-width="0.07" textLength="209.9" lengthAdjust="spacingAndGlyphs">ADAGrad with CNN Depth/Width for Natural Images</text>
<text x="55.8" y="411.9" font-family="Liberation Serif" font-size="9.4" font-weight="bold" fill="#111" textLength="9" lengthAdjust="spacingAndGlyphs">(e)</text>
<text x="67.9" y="411.9" font-family="Liberation Serif" font-size="9.4" fill="#111" stroke="#111" stroke-width="0.07" textLength="207.7" lengthAdjust="spacingAndGlyphs">RMSProp with CNN Depth/Width for Natural Images</text>
<text x="61" y="544.9" font-family="Liberation Serif" font-size="9.4" font-weight="bold" fill="#111" textLength="8.4" lengthAdjust="spacingAndGlyphs">(f)</text>
<text x="72.4" y="544.9" font-family="Liberation Serif" font-size="9.4" fill="#111" stroke="#111" stroke-width="0.07" textLength="198.5" lengthAdjust="spacingAndGlyphs">ADAM with CNN Depth/Width for Natural Images</text></svg>
</body></html>
